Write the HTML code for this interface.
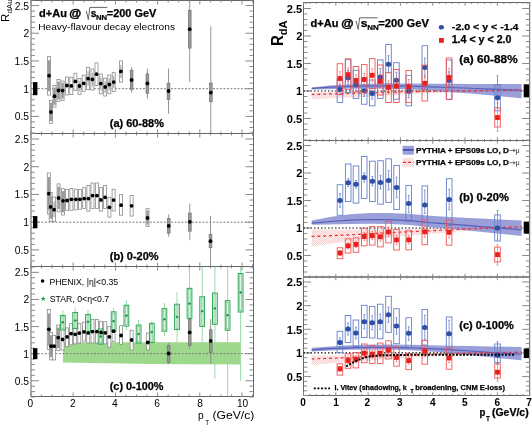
<!DOCTYPE html>
<html><head><meta charset="utf-8"><style>
html,body{margin:0;padding:0;background:#fff;}
svg{display:block;filter:blur(0.3px);font-family:"Liberation Sans",sans-serif;}
</style></head><body>
<svg width="532" height="425" viewBox="0 0 532 425">
<rect width="532" height="425" fill="#fff"/>
<line x1="62.8" y1="310.2" x2="62.8" y2="333.7" stroke="#8fd6a2" stroke-width="0.9"/>
<line x1="75.2" y1="308" x2="75.2" y2="332" stroke="#8fd6a2" stroke-width="0.9"/>
<line x1="88" y1="310" x2="88" y2="335" stroke="#8fd6a2" stroke-width="0.9"/>
<line x1="100.6" y1="326" x2="100.6" y2="347" stroke="#8fd6a2" stroke-width="0.9"/>
<line x1="113.6" y1="308" x2="113.6" y2="334" stroke="#8fd6a2" stroke-width="0.9"/>
<line x1="126.4" y1="300" x2="126.4" y2="330" stroke="#8fd6a2" stroke-width="0.9"/>
<line x1="138.6" y1="320" x2="138.6" y2="347" stroke="#8fd6a2" stroke-width="0.9"/>
<line x1="151.8" y1="320.8" x2="151.8" y2="346" stroke="#8fd6a2" stroke-width="0.9"/>
<line x1="164.4" y1="303" x2="164.4" y2="335.9" stroke="#8fd6a2" stroke-width="0.9"/>
<line x1="177" y1="292.1" x2="177" y2="342" stroke="#8fd6a2" stroke-width="0.9"/>
<line x1="189.5" y1="266" x2="189.5" y2="350" stroke="#8fd6a2" stroke-width="0.9"/>
<line x1="202.2" y1="266" x2="202.2" y2="356.5" stroke="#8fd6a2" stroke-width="0.9"/>
<line x1="214.9" y1="266" x2="214.9" y2="378.7" stroke="#8fd6a2" stroke-width="0.9"/>
<line x1="227.6" y1="266" x2="227.6" y2="396" stroke="#8fd6a2" stroke-width="0.9"/>
<line x1="240.6" y1="266" x2="240.6" y2="381.1" stroke="#8fd6a2" stroke-width="0.9"/>
<polygon points="63,342.2 240.6,342.2 240.6,364.6 150,364 63,362.6" fill="#9ed88c"/>
<line x1="31" y1="88.68" x2="253.5" y2="88.68" stroke="#777" stroke-width="1" stroke-dasharray="1.9 1.6"/>
<rect x="31" y="0.5" width="222.5" height="133" fill="none" stroke="#666" stroke-width="1"/>
<line x1="31" y1="133.03" x2="35" y2="133.03" stroke="#8a8a8a" stroke-width="1"/>
<line x1="249.5" y1="133.03" x2="253.5" y2="133.03" stroke="#8a8a8a" stroke-width="1"/>
<line x1="31" y1="127.49" x2="35" y2="127.49" stroke="#8a8a8a" stroke-width="1"/>
<line x1="249.5" y1="127.49" x2="253.5" y2="127.49" stroke="#8a8a8a" stroke-width="1"/>
<line x1="31" y1="121.95" x2="35" y2="121.95" stroke="#8a8a8a" stroke-width="1"/>
<line x1="249.5" y1="121.95" x2="253.5" y2="121.95" stroke="#8a8a8a" stroke-width="1"/>
<line x1="31" y1="116.4" x2="39" y2="116.4" stroke="#8a8a8a" stroke-width="1"/>
<line x1="245.5" y1="116.4" x2="253.5" y2="116.4" stroke="#8a8a8a" stroke-width="1"/>
<line x1="31" y1="110.86" x2="35" y2="110.86" stroke="#8a8a8a" stroke-width="1"/>
<line x1="249.5" y1="110.86" x2="253.5" y2="110.86" stroke="#8a8a8a" stroke-width="1"/>
<line x1="31" y1="105.31" x2="35" y2="105.31" stroke="#8a8a8a" stroke-width="1"/>
<line x1="249.5" y1="105.31" x2="253.5" y2="105.31" stroke="#8a8a8a" stroke-width="1"/>
<line x1="31" y1="99.77" x2="35" y2="99.77" stroke="#8a8a8a" stroke-width="1"/>
<line x1="249.5" y1="99.77" x2="253.5" y2="99.77" stroke="#8a8a8a" stroke-width="1"/>
<line x1="31" y1="94.22" x2="35" y2="94.22" stroke="#8a8a8a" stroke-width="1"/>
<line x1="249.5" y1="94.22" x2="253.5" y2="94.22" stroke="#8a8a8a" stroke-width="1"/>
<line x1="31" y1="88.68" x2="39" y2="88.68" stroke="#8a8a8a" stroke-width="1"/>
<line x1="245.5" y1="88.68" x2="253.5" y2="88.68" stroke="#8a8a8a" stroke-width="1"/>
<line x1="31" y1="83.13" x2="35" y2="83.13" stroke="#8a8a8a" stroke-width="1"/>
<line x1="249.5" y1="83.13" x2="253.5" y2="83.13" stroke="#8a8a8a" stroke-width="1"/>
<line x1="31" y1="77.59" x2="35" y2="77.59" stroke="#8a8a8a" stroke-width="1"/>
<line x1="249.5" y1="77.59" x2="253.5" y2="77.59" stroke="#8a8a8a" stroke-width="1"/>
<line x1="31" y1="72.04" x2="35" y2="72.04" stroke="#8a8a8a" stroke-width="1"/>
<line x1="249.5" y1="72.04" x2="253.5" y2="72.04" stroke="#8a8a8a" stroke-width="1"/>
<line x1="31" y1="66.5" x2="35" y2="66.5" stroke="#8a8a8a" stroke-width="1"/>
<line x1="249.5" y1="66.5" x2="253.5" y2="66.5" stroke="#8a8a8a" stroke-width="1"/>
<line x1="31" y1="60.95" x2="39" y2="60.95" stroke="#8a8a8a" stroke-width="1"/>
<line x1="245.5" y1="60.95" x2="253.5" y2="60.95" stroke="#8a8a8a" stroke-width="1"/>
<line x1="31" y1="55.41" x2="35" y2="55.41" stroke="#8a8a8a" stroke-width="1"/>
<line x1="249.5" y1="55.41" x2="253.5" y2="55.41" stroke="#8a8a8a" stroke-width="1"/>
<line x1="31" y1="49.86" x2="35" y2="49.86" stroke="#8a8a8a" stroke-width="1"/>
<line x1="249.5" y1="49.86" x2="253.5" y2="49.86" stroke="#8a8a8a" stroke-width="1"/>
<line x1="31" y1="44.31" x2="35" y2="44.31" stroke="#8a8a8a" stroke-width="1"/>
<line x1="249.5" y1="44.31" x2="253.5" y2="44.31" stroke="#8a8a8a" stroke-width="1"/>
<line x1="31" y1="38.77" x2="35" y2="38.77" stroke="#8a8a8a" stroke-width="1"/>
<line x1="249.5" y1="38.77" x2="253.5" y2="38.77" stroke="#8a8a8a" stroke-width="1"/>
<line x1="31" y1="33.22" x2="39" y2="33.22" stroke="#8a8a8a" stroke-width="1"/>
<line x1="245.5" y1="33.22" x2="253.5" y2="33.22" stroke="#8a8a8a" stroke-width="1"/>
<line x1="31" y1="27.68" x2="35" y2="27.68" stroke="#8a8a8a" stroke-width="1"/>
<line x1="249.5" y1="27.68" x2="253.5" y2="27.68" stroke="#8a8a8a" stroke-width="1"/>
<line x1="31" y1="22.13" x2="35" y2="22.13" stroke="#8a8a8a" stroke-width="1"/>
<line x1="249.5" y1="22.13" x2="253.5" y2="22.13" stroke="#8a8a8a" stroke-width="1"/>
<line x1="31" y1="16.59" x2="35" y2="16.59" stroke="#8a8a8a" stroke-width="1"/>
<line x1="249.5" y1="16.59" x2="253.5" y2="16.59" stroke="#8a8a8a" stroke-width="1"/>
<line x1="31" y1="11.05" x2="35" y2="11.05" stroke="#8a8a8a" stroke-width="1"/>
<line x1="249.5" y1="11.05" x2="253.5" y2="11.05" stroke="#8a8a8a" stroke-width="1"/>
<line x1="31" y1="5.5" x2="39" y2="5.5" stroke="#8a8a8a" stroke-width="1"/>
<line x1="245.5" y1="5.5" x2="253.5" y2="5.5" stroke="#8a8a8a" stroke-width="1"/>
<line x1="31" y1="-0.05" x2="35" y2="-0.05" stroke="#8a8a8a" stroke-width="1"/>
<line x1="249.5" y1="-0.05" x2="253.5" y2="-0.05" stroke="#8a8a8a" stroke-width="1"/>
<text x="14.81" y="120.4" font-size="10.29" fill="#000" textLength="14.3" lengthAdjust="spacingAndGlyphs">0.5</text>
<text x="23.38" y="92.68" font-size="10.43" fill="#000" textLength="5.8" lengthAdjust="spacingAndGlyphs">1</text>
<text x="14.61" y="64.95" font-size="10.43" fill="#000" textLength="14.51" lengthAdjust="spacingAndGlyphs">1.5</text>
<text x="23.51" y="37.22" font-size="10.29" fill="#000" textLength="5.72" lengthAdjust="spacingAndGlyphs">2</text>
<text x="14.81" y="9.5" font-size="10.29" fill="#000" textLength="14.3" lengthAdjust="spacingAndGlyphs">2.5</text>
<line x1="31" y1="133.5" x2="31" y2="129.5" stroke="#8a8a8a" stroke-width="1"/>
<line x1="31" y1="0.5" x2="31" y2="4.5" stroke="#8a8a8a" stroke-width="1"/>
<line x1="41.55" y1="133.5" x2="41.55" y2="131.5" stroke="#8a8a8a" stroke-width="1"/>
<line x1="41.55" y1="0.5" x2="41.55" y2="2.5" stroke="#8a8a8a" stroke-width="1"/>
<line x1="52.1" y1="133.5" x2="52.1" y2="131.5" stroke="#8a8a8a" stroke-width="1"/>
<line x1="52.1" y1="0.5" x2="52.1" y2="2.5" stroke="#8a8a8a" stroke-width="1"/>
<line x1="62.65" y1="133.5" x2="62.65" y2="131.5" stroke="#8a8a8a" stroke-width="1"/>
<line x1="62.65" y1="0.5" x2="62.65" y2="2.5" stroke="#8a8a8a" stroke-width="1"/>
<line x1="73.2" y1="133.5" x2="73.2" y2="129.5" stroke="#8a8a8a" stroke-width="1"/>
<line x1="73.2" y1="0.5" x2="73.2" y2="4.5" stroke="#8a8a8a" stroke-width="1"/>
<line x1="83.75" y1="133.5" x2="83.75" y2="131.5" stroke="#8a8a8a" stroke-width="1"/>
<line x1="83.75" y1="0.5" x2="83.75" y2="2.5" stroke="#8a8a8a" stroke-width="1"/>
<line x1="94.3" y1="133.5" x2="94.3" y2="131.5" stroke="#8a8a8a" stroke-width="1"/>
<line x1="94.3" y1="0.5" x2="94.3" y2="2.5" stroke="#8a8a8a" stroke-width="1"/>
<line x1="104.85" y1="133.5" x2="104.85" y2="131.5" stroke="#8a8a8a" stroke-width="1"/>
<line x1="104.85" y1="0.5" x2="104.85" y2="2.5" stroke="#8a8a8a" stroke-width="1"/>
<line x1="115.4" y1="133.5" x2="115.4" y2="129.5" stroke="#8a8a8a" stroke-width="1"/>
<line x1="115.4" y1="0.5" x2="115.4" y2="4.5" stroke="#8a8a8a" stroke-width="1"/>
<line x1="125.95" y1="133.5" x2="125.95" y2="131.5" stroke="#8a8a8a" stroke-width="1"/>
<line x1="125.95" y1="0.5" x2="125.95" y2="2.5" stroke="#8a8a8a" stroke-width="1"/>
<line x1="136.5" y1="133.5" x2="136.5" y2="131.5" stroke="#8a8a8a" stroke-width="1"/>
<line x1="136.5" y1="0.5" x2="136.5" y2="2.5" stroke="#8a8a8a" stroke-width="1"/>
<line x1="147.05" y1="133.5" x2="147.05" y2="131.5" stroke="#8a8a8a" stroke-width="1"/>
<line x1="147.05" y1="0.5" x2="147.05" y2="2.5" stroke="#8a8a8a" stroke-width="1"/>
<line x1="157.6" y1="133.5" x2="157.6" y2="129.5" stroke="#8a8a8a" stroke-width="1"/>
<line x1="157.6" y1="0.5" x2="157.6" y2="4.5" stroke="#8a8a8a" stroke-width="1"/>
<line x1="168.15" y1="133.5" x2="168.15" y2="131.5" stroke="#8a8a8a" stroke-width="1"/>
<line x1="168.15" y1="0.5" x2="168.15" y2="2.5" stroke="#8a8a8a" stroke-width="1"/>
<line x1="178.7" y1="133.5" x2="178.7" y2="131.5" stroke="#8a8a8a" stroke-width="1"/>
<line x1="178.7" y1="0.5" x2="178.7" y2="2.5" stroke="#8a8a8a" stroke-width="1"/>
<line x1="189.25" y1="133.5" x2="189.25" y2="131.5" stroke="#8a8a8a" stroke-width="1"/>
<line x1="189.25" y1="0.5" x2="189.25" y2="2.5" stroke="#8a8a8a" stroke-width="1"/>
<line x1="199.8" y1="133.5" x2="199.8" y2="129.5" stroke="#8a8a8a" stroke-width="1"/>
<line x1="199.8" y1="0.5" x2="199.8" y2="4.5" stroke="#8a8a8a" stroke-width="1"/>
<line x1="210.35" y1="133.5" x2="210.35" y2="131.5" stroke="#8a8a8a" stroke-width="1"/>
<line x1="210.35" y1="0.5" x2="210.35" y2="2.5" stroke="#8a8a8a" stroke-width="1"/>
<line x1="220.9" y1="133.5" x2="220.9" y2="131.5" stroke="#8a8a8a" stroke-width="1"/>
<line x1="220.9" y1="0.5" x2="220.9" y2="2.5" stroke="#8a8a8a" stroke-width="1"/>
<line x1="231.45" y1="133.5" x2="231.45" y2="131.5" stroke="#8a8a8a" stroke-width="1"/>
<line x1="231.45" y1="0.5" x2="231.45" y2="2.5" stroke="#8a8a8a" stroke-width="1"/>
<line x1="242" y1="133.5" x2="242" y2="129.5" stroke="#8a8a8a" stroke-width="1"/>
<line x1="242" y1="0.5" x2="242" y2="4.5" stroke="#8a8a8a" stroke-width="1"/>
<line x1="252.55" y1="133.5" x2="252.55" y2="131.5" stroke="#8a8a8a" stroke-width="1"/>
<line x1="252.55" y1="0.5" x2="252.55" y2="2.5" stroke="#8a8a8a" stroke-width="1"/>
<rect x="33" y="82.18" width="4.4" height="13" fill="#000"/>
<line x1="31" y1="222.18" x2="253.5" y2="222.18" stroke="#777" stroke-width="1" stroke-dasharray="1.9 1.6"/>
<rect x="31" y="133.5" width="222.5" height="133" fill="none" stroke="#666" stroke-width="1"/>
<line x1="31" y1="266.54" x2="35" y2="266.54" stroke="#8a8a8a" stroke-width="1"/>
<line x1="249.5" y1="266.54" x2="253.5" y2="266.54" stroke="#8a8a8a" stroke-width="1"/>
<line x1="31" y1="260.99" x2="35" y2="260.99" stroke="#8a8a8a" stroke-width="1"/>
<line x1="249.5" y1="260.99" x2="253.5" y2="260.99" stroke="#8a8a8a" stroke-width="1"/>
<line x1="31" y1="255.44" x2="35" y2="255.44" stroke="#8a8a8a" stroke-width="1"/>
<line x1="249.5" y1="255.44" x2="253.5" y2="255.44" stroke="#8a8a8a" stroke-width="1"/>
<line x1="31" y1="249.9" x2="39" y2="249.9" stroke="#8a8a8a" stroke-width="1"/>
<line x1="245.5" y1="249.9" x2="253.5" y2="249.9" stroke="#8a8a8a" stroke-width="1"/>
<line x1="31" y1="244.36" x2="35" y2="244.36" stroke="#8a8a8a" stroke-width="1"/>
<line x1="249.5" y1="244.36" x2="253.5" y2="244.36" stroke="#8a8a8a" stroke-width="1"/>
<line x1="31" y1="238.81" x2="35" y2="238.81" stroke="#8a8a8a" stroke-width="1"/>
<line x1="249.5" y1="238.81" x2="253.5" y2="238.81" stroke="#8a8a8a" stroke-width="1"/>
<line x1="31" y1="233.27" x2="35" y2="233.27" stroke="#8a8a8a" stroke-width="1"/>
<line x1="249.5" y1="233.27" x2="253.5" y2="233.27" stroke="#8a8a8a" stroke-width="1"/>
<line x1="31" y1="227.72" x2="35" y2="227.72" stroke="#8a8a8a" stroke-width="1"/>
<line x1="249.5" y1="227.72" x2="253.5" y2="227.72" stroke="#8a8a8a" stroke-width="1"/>
<line x1="31" y1="222.18" x2="39" y2="222.18" stroke="#8a8a8a" stroke-width="1"/>
<line x1="245.5" y1="222.18" x2="253.5" y2="222.18" stroke="#8a8a8a" stroke-width="1"/>
<line x1="31" y1="216.63" x2="35" y2="216.63" stroke="#8a8a8a" stroke-width="1"/>
<line x1="249.5" y1="216.63" x2="253.5" y2="216.63" stroke="#8a8a8a" stroke-width="1"/>
<line x1="31" y1="211.09" x2="35" y2="211.09" stroke="#8a8a8a" stroke-width="1"/>
<line x1="249.5" y1="211.09" x2="253.5" y2="211.09" stroke="#8a8a8a" stroke-width="1"/>
<line x1="31" y1="205.54" x2="35" y2="205.54" stroke="#8a8a8a" stroke-width="1"/>
<line x1="249.5" y1="205.54" x2="253.5" y2="205.54" stroke="#8a8a8a" stroke-width="1"/>
<line x1="31" y1="200" x2="35" y2="200" stroke="#8a8a8a" stroke-width="1"/>
<line x1="249.5" y1="200" x2="253.5" y2="200" stroke="#8a8a8a" stroke-width="1"/>
<line x1="31" y1="194.45" x2="39" y2="194.45" stroke="#8a8a8a" stroke-width="1"/>
<line x1="245.5" y1="194.45" x2="253.5" y2="194.45" stroke="#8a8a8a" stroke-width="1"/>
<line x1="31" y1="188.91" x2="35" y2="188.91" stroke="#8a8a8a" stroke-width="1"/>
<line x1="249.5" y1="188.91" x2="253.5" y2="188.91" stroke="#8a8a8a" stroke-width="1"/>
<line x1="31" y1="183.36" x2="35" y2="183.36" stroke="#8a8a8a" stroke-width="1"/>
<line x1="249.5" y1="183.36" x2="253.5" y2="183.36" stroke="#8a8a8a" stroke-width="1"/>
<line x1="31" y1="177.81" x2="35" y2="177.81" stroke="#8a8a8a" stroke-width="1"/>
<line x1="249.5" y1="177.81" x2="253.5" y2="177.81" stroke="#8a8a8a" stroke-width="1"/>
<line x1="31" y1="172.27" x2="35" y2="172.27" stroke="#8a8a8a" stroke-width="1"/>
<line x1="249.5" y1="172.27" x2="253.5" y2="172.27" stroke="#8a8a8a" stroke-width="1"/>
<line x1="31" y1="166.72" x2="39" y2="166.72" stroke="#8a8a8a" stroke-width="1"/>
<line x1="245.5" y1="166.72" x2="253.5" y2="166.72" stroke="#8a8a8a" stroke-width="1"/>
<line x1="31" y1="161.18" x2="35" y2="161.18" stroke="#8a8a8a" stroke-width="1"/>
<line x1="249.5" y1="161.18" x2="253.5" y2="161.18" stroke="#8a8a8a" stroke-width="1"/>
<line x1="31" y1="155.63" x2="35" y2="155.63" stroke="#8a8a8a" stroke-width="1"/>
<line x1="249.5" y1="155.63" x2="253.5" y2="155.63" stroke="#8a8a8a" stroke-width="1"/>
<line x1="31" y1="150.09" x2="35" y2="150.09" stroke="#8a8a8a" stroke-width="1"/>
<line x1="249.5" y1="150.09" x2="253.5" y2="150.09" stroke="#8a8a8a" stroke-width="1"/>
<line x1="31" y1="144.55" x2="35" y2="144.55" stroke="#8a8a8a" stroke-width="1"/>
<line x1="249.5" y1="144.55" x2="253.5" y2="144.55" stroke="#8a8a8a" stroke-width="1"/>
<line x1="31" y1="139" x2="39" y2="139" stroke="#8a8a8a" stroke-width="1"/>
<line x1="245.5" y1="139" x2="253.5" y2="139" stroke="#8a8a8a" stroke-width="1"/>
<line x1="31" y1="133.45" x2="35" y2="133.45" stroke="#8a8a8a" stroke-width="1"/>
<line x1="249.5" y1="133.45" x2="253.5" y2="133.45" stroke="#8a8a8a" stroke-width="1"/>
<text x="14.81" y="253.9" font-size="10.29" fill="#000" textLength="14.3" lengthAdjust="spacingAndGlyphs">0.5</text>
<text x="23.38" y="226.18" font-size="10.43" fill="#000" textLength="5.8" lengthAdjust="spacingAndGlyphs">1</text>
<text x="14.61" y="198.45" font-size="10.43" fill="#000" textLength="14.51" lengthAdjust="spacingAndGlyphs">1.5</text>
<text x="23.51" y="170.72" font-size="10.29" fill="#000" textLength="5.72" lengthAdjust="spacingAndGlyphs">2</text>
<text x="14.81" y="143" font-size="10.29" fill="#000" textLength="14.3" lengthAdjust="spacingAndGlyphs">2.5</text>
<line x1="31" y1="266.5" x2="31" y2="262.5" stroke="#8a8a8a" stroke-width="1"/>
<line x1="31" y1="133.5" x2="31" y2="137.5" stroke="#8a8a8a" stroke-width="1"/>
<line x1="41.55" y1="266.5" x2="41.55" y2="264.5" stroke="#8a8a8a" stroke-width="1"/>
<line x1="41.55" y1="133.5" x2="41.55" y2="135.5" stroke="#8a8a8a" stroke-width="1"/>
<line x1="52.1" y1="266.5" x2="52.1" y2="264.5" stroke="#8a8a8a" stroke-width="1"/>
<line x1="52.1" y1="133.5" x2="52.1" y2="135.5" stroke="#8a8a8a" stroke-width="1"/>
<line x1="62.65" y1="266.5" x2="62.65" y2="264.5" stroke="#8a8a8a" stroke-width="1"/>
<line x1="62.65" y1="133.5" x2="62.65" y2="135.5" stroke="#8a8a8a" stroke-width="1"/>
<line x1="73.2" y1="266.5" x2="73.2" y2="262.5" stroke="#8a8a8a" stroke-width="1"/>
<line x1="73.2" y1="133.5" x2="73.2" y2="137.5" stroke="#8a8a8a" stroke-width="1"/>
<line x1="83.75" y1="266.5" x2="83.75" y2="264.5" stroke="#8a8a8a" stroke-width="1"/>
<line x1="83.75" y1="133.5" x2="83.75" y2="135.5" stroke="#8a8a8a" stroke-width="1"/>
<line x1="94.3" y1="266.5" x2="94.3" y2="264.5" stroke="#8a8a8a" stroke-width="1"/>
<line x1="94.3" y1="133.5" x2="94.3" y2="135.5" stroke="#8a8a8a" stroke-width="1"/>
<line x1="104.85" y1="266.5" x2="104.85" y2="264.5" stroke="#8a8a8a" stroke-width="1"/>
<line x1="104.85" y1="133.5" x2="104.85" y2="135.5" stroke="#8a8a8a" stroke-width="1"/>
<line x1="115.4" y1="266.5" x2="115.4" y2="262.5" stroke="#8a8a8a" stroke-width="1"/>
<line x1="115.4" y1="133.5" x2="115.4" y2="137.5" stroke="#8a8a8a" stroke-width="1"/>
<line x1="125.95" y1="266.5" x2="125.95" y2="264.5" stroke="#8a8a8a" stroke-width="1"/>
<line x1="125.95" y1="133.5" x2="125.95" y2="135.5" stroke="#8a8a8a" stroke-width="1"/>
<line x1="136.5" y1="266.5" x2="136.5" y2="264.5" stroke="#8a8a8a" stroke-width="1"/>
<line x1="136.5" y1="133.5" x2="136.5" y2="135.5" stroke="#8a8a8a" stroke-width="1"/>
<line x1="147.05" y1="266.5" x2="147.05" y2="264.5" stroke="#8a8a8a" stroke-width="1"/>
<line x1="147.05" y1="133.5" x2="147.05" y2="135.5" stroke="#8a8a8a" stroke-width="1"/>
<line x1="157.6" y1="266.5" x2="157.6" y2="262.5" stroke="#8a8a8a" stroke-width="1"/>
<line x1="157.6" y1="133.5" x2="157.6" y2="137.5" stroke="#8a8a8a" stroke-width="1"/>
<line x1="168.15" y1="266.5" x2="168.15" y2="264.5" stroke="#8a8a8a" stroke-width="1"/>
<line x1="168.15" y1="133.5" x2="168.15" y2="135.5" stroke="#8a8a8a" stroke-width="1"/>
<line x1="178.7" y1="266.5" x2="178.7" y2="264.5" stroke="#8a8a8a" stroke-width="1"/>
<line x1="178.7" y1="133.5" x2="178.7" y2="135.5" stroke="#8a8a8a" stroke-width="1"/>
<line x1="189.25" y1="266.5" x2="189.25" y2="264.5" stroke="#8a8a8a" stroke-width="1"/>
<line x1="189.25" y1="133.5" x2="189.25" y2="135.5" stroke="#8a8a8a" stroke-width="1"/>
<line x1="199.8" y1="266.5" x2="199.8" y2="262.5" stroke="#8a8a8a" stroke-width="1"/>
<line x1="199.8" y1="133.5" x2="199.8" y2="137.5" stroke="#8a8a8a" stroke-width="1"/>
<line x1="210.35" y1="266.5" x2="210.35" y2="264.5" stroke="#8a8a8a" stroke-width="1"/>
<line x1="210.35" y1="133.5" x2="210.35" y2="135.5" stroke="#8a8a8a" stroke-width="1"/>
<line x1="220.9" y1="266.5" x2="220.9" y2="264.5" stroke="#8a8a8a" stroke-width="1"/>
<line x1="220.9" y1="133.5" x2="220.9" y2="135.5" stroke="#8a8a8a" stroke-width="1"/>
<line x1="231.45" y1="266.5" x2="231.45" y2="264.5" stroke="#8a8a8a" stroke-width="1"/>
<line x1="231.45" y1="133.5" x2="231.45" y2="135.5" stroke="#8a8a8a" stroke-width="1"/>
<line x1="242" y1="266.5" x2="242" y2="262.5" stroke="#8a8a8a" stroke-width="1"/>
<line x1="242" y1="133.5" x2="242" y2="137.5" stroke="#8a8a8a" stroke-width="1"/>
<line x1="252.55" y1="266.5" x2="252.55" y2="264.5" stroke="#8a8a8a" stroke-width="1"/>
<line x1="252.55" y1="133.5" x2="252.55" y2="135.5" stroke="#8a8a8a" stroke-width="1"/>
<rect x="33" y="216.08" width="4.4" height="12.2" fill="#000"/>
<line x1="31" y1="353.65" x2="253.5" y2="353.65" stroke="#777" stroke-width="1" stroke-dasharray="1.9 1.6"/>
<rect x="31" y="266.5" width="222.5" height="130" fill="none" stroke="#666" stroke-width="1"/>
<line x1="31" y1="397.01" x2="35" y2="397.01" stroke="#8a8a8a" stroke-width="1"/>
<line x1="249.5" y1="397.01" x2="253.5" y2="397.01" stroke="#8a8a8a" stroke-width="1"/>
<line x1="31" y1="391.59" x2="35" y2="391.59" stroke="#8a8a8a" stroke-width="1"/>
<line x1="249.5" y1="391.59" x2="253.5" y2="391.59" stroke="#8a8a8a" stroke-width="1"/>
<line x1="31" y1="386.17" x2="35" y2="386.17" stroke="#8a8a8a" stroke-width="1"/>
<line x1="249.5" y1="386.17" x2="253.5" y2="386.17" stroke="#8a8a8a" stroke-width="1"/>
<line x1="31" y1="380.75" x2="39" y2="380.75" stroke="#8a8a8a" stroke-width="1"/>
<line x1="245.5" y1="380.75" x2="253.5" y2="380.75" stroke="#8a8a8a" stroke-width="1"/>
<line x1="31" y1="375.33" x2="35" y2="375.33" stroke="#8a8a8a" stroke-width="1"/>
<line x1="249.5" y1="375.33" x2="253.5" y2="375.33" stroke="#8a8a8a" stroke-width="1"/>
<line x1="31" y1="369.91" x2="35" y2="369.91" stroke="#8a8a8a" stroke-width="1"/>
<line x1="249.5" y1="369.91" x2="253.5" y2="369.91" stroke="#8a8a8a" stroke-width="1"/>
<line x1="31" y1="364.49" x2="35" y2="364.49" stroke="#8a8a8a" stroke-width="1"/>
<line x1="249.5" y1="364.49" x2="253.5" y2="364.49" stroke="#8a8a8a" stroke-width="1"/>
<line x1="31" y1="359.07" x2="35" y2="359.07" stroke="#8a8a8a" stroke-width="1"/>
<line x1="249.5" y1="359.07" x2="253.5" y2="359.07" stroke="#8a8a8a" stroke-width="1"/>
<line x1="31" y1="353.65" x2="39" y2="353.65" stroke="#8a8a8a" stroke-width="1"/>
<line x1="245.5" y1="353.65" x2="253.5" y2="353.65" stroke="#8a8a8a" stroke-width="1"/>
<line x1="31" y1="348.23" x2="35" y2="348.23" stroke="#8a8a8a" stroke-width="1"/>
<line x1="249.5" y1="348.23" x2="253.5" y2="348.23" stroke="#8a8a8a" stroke-width="1"/>
<line x1="31" y1="342.81" x2="35" y2="342.81" stroke="#8a8a8a" stroke-width="1"/>
<line x1="249.5" y1="342.81" x2="253.5" y2="342.81" stroke="#8a8a8a" stroke-width="1"/>
<line x1="31" y1="337.39" x2="35" y2="337.39" stroke="#8a8a8a" stroke-width="1"/>
<line x1="249.5" y1="337.39" x2="253.5" y2="337.39" stroke="#8a8a8a" stroke-width="1"/>
<line x1="31" y1="331.97" x2="35" y2="331.97" stroke="#8a8a8a" stroke-width="1"/>
<line x1="249.5" y1="331.97" x2="253.5" y2="331.97" stroke="#8a8a8a" stroke-width="1"/>
<line x1="31" y1="326.55" x2="39" y2="326.55" stroke="#8a8a8a" stroke-width="1"/>
<line x1="245.5" y1="326.55" x2="253.5" y2="326.55" stroke="#8a8a8a" stroke-width="1"/>
<line x1="31" y1="321.13" x2="35" y2="321.13" stroke="#8a8a8a" stroke-width="1"/>
<line x1="249.5" y1="321.13" x2="253.5" y2="321.13" stroke="#8a8a8a" stroke-width="1"/>
<line x1="31" y1="315.71" x2="35" y2="315.71" stroke="#8a8a8a" stroke-width="1"/>
<line x1="249.5" y1="315.71" x2="253.5" y2="315.71" stroke="#8a8a8a" stroke-width="1"/>
<line x1="31" y1="310.29" x2="35" y2="310.29" stroke="#8a8a8a" stroke-width="1"/>
<line x1="249.5" y1="310.29" x2="253.5" y2="310.29" stroke="#8a8a8a" stroke-width="1"/>
<line x1="31" y1="304.87" x2="35" y2="304.87" stroke="#8a8a8a" stroke-width="1"/>
<line x1="249.5" y1="304.87" x2="253.5" y2="304.87" stroke="#8a8a8a" stroke-width="1"/>
<line x1="31" y1="299.45" x2="39" y2="299.45" stroke="#8a8a8a" stroke-width="1"/>
<line x1="245.5" y1="299.45" x2="253.5" y2="299.45" stroke="#8a8a8a" stroke-width="1"/>
<line x1="31" y1="294.03" x2="35" y2="294.03" stroke="#8a8a8a" stroke-width="1"/>
<line x1="249.5" y1="294.03" x2="253.5" y2="294.03" stroke="#8a8a8a" stroke-width="1"/>
<line x1="31" y1="288.61" x2="35" y2="288.61" stroke="#8a8a8a" stroke-width="1"/>
<line x1="249.5" y1="288.61" x2="253.5" y2="288.61" stroke="#8a8a8a" stroke-width="1"/>
<line x1="31" y1="283.19" x2="35" y2="283.19" stroke="#8a8a8a" stroke-width="1"/>
<line x1="249.5" y1="283.19" x2="253.5" y2="283.19" stroke="#8a8a8a" stroke-width="1"/>
<line x1="31" y1="277.77" x2="35" y2="277.77" stroke="#8a8a8a" stroke-width="1"/>
<line x1="249.5" y1="277.77" x2="253.5" y2="277.77" stroke="#8a8a8a" stroke-width="1"/>
<line x1="31" y1="272.35" x2="39" y2="272.35" stroke="#8a8a8a" stroke-width="1"/>
<line x1="245.5" y1="272.35" x2="253.5" y2="272.35" stroke="#8a8a8a" stroke-width="1"/>
<line x1="31" y1="266.93" x2="35" y2="266.93" stroke="#8a8a8a" stroke-width="1"/>
<line x1="249.5" y1="266.93" x2="253.5" y2="266.93" stroke="#8a8a8a" stroke-width="1"/>
<text x="14.81" y="384.75" font-size="10.29" fill="#000" textLength="14.3" lengthAdjust="spacingAndGlyphs">0.5</text>
<text x="23.38" y="357.65" font-size="10.43" fill="#000" textLength="5.8" lengthAdjust="spacingAndGlyphs">1</text>
<text x="14.61" y="330.55" font-size="10.43" fill="#000" textLength="14.51" lengthAdjust="spacingAndGlyphs">1.5</text>
<text x="23.51" y="303.45" font-size="10.29" fill="#000" textLength="5.72" lengthAdjust="spacingAndGlyphs">2</text>
<text x="14.81" y="276.35" font-size="10.29" fill="#000" textLength="14.3" lengthAdjust="spacingAndGlyphs">2.5</text>
<line x1="31" y1="396.5" x2="31" y2="392.5" stroke="#8a8a8a" stroke-width="1"/>
<line x1="31" y1="266.5" x2="31" y2="270.5" stroke="#8a8a8a" stroke-width="1"/>
<line x1="41.55" y1="396.5" x2="41.55" y2="394.5" stroke="#8a8a8a" stroke-width="1"/>
<line x1="41.55" y1="266.5" x2="41.55" y2="268.5" stroke="#8a8a8a" stroke-width="1"/>
<line x1="52.1" y1="396.5" x2="52.1" y2="394.5" stroke="#8a8a8a" stroke-width="1"/>
<line x1="52.1" y1="266.5" x2="52.1" y2="268.5" stroke="#8a8a8a" stroke-width="1"/>
<line x1="62.65" y1="396.5" x2="62.65" y2="394.5" stroke="#8a8a8a" stroke-width="1"/>
<line x1="62.65" y1="266.5" x2="62.65" y2="268.5" stroke="#8a8a8a" stroke-width="1"/>
<line x1="73.2" y1="396.5" x2="73.2" y2="392.5" stroke="#8a8a8a" stroke-width="1"/>
<line x1="73.2" y1="266.5" x2="73.2" y2="270.5" stroke="#8a8a8a" stroke-width="1"/>
<line x1="83.75" y1="396.5" x2="83.75" y2="394.5" stroke="#8a8a8a" stroke-width="1"/>
<line x1="83.75" y1="266.5" x2="83.75" y2="268.5" stroke="#8a8a8a" stroke-width="1"/>
<line x1="94.3" y1="396.5" x2="94.3" y2="394.5" stroke="#8a8a8a" stroke-width="1"/>
<line x1="94.3" y1="266.5" x2="94.3" y2="268.5" stroke="#8a8a8a" stroke-width="1"/>
<line x1="104.85" y1="396.5" x2="104.85" y2="394.5" stroke="#8a8a8a" stroke-width="1"/>
<line x1="104.85" y1="266.5" x2="104.85" y2="268.5" stroke="#8a8a8a" stroke-width="1"/>
<line x1="115.4" y1="396.5" x2="115.4" y2="392.5" stroke="#8a8a8a" stroke-width="1"/>
<line x1="115.4" y1="266.5" x2="115.4" y2="270.5" stroke="#8a8a8a" stroke-width="1"/>
<line x1="125.95" y1="396.5" x2="125.95" y2="394.5" stroke="#8a8a8a" stroke-width="1"/>
<line x1="125.95" y1="266.5" x2="125.95" y2="268.5" stroke="#8a8a8a" stroke-width="1"/>
<line x1="136.5" y1="396.5" x2="136.5" y2="394.5" stroke="#8a8a8a" stroke-width="1"/>
<line x1="136.5" y1="266.5" x2="136.5" y2="268.5" stroke="#8a8a8a" stroke-width="1"/>
<line x1="147.05" y1="396.5" x2="147.05" y2="394.5" stroke="#8a8a8a" stroke-width="1"/>
<line x1="147.05" y1="266.5" x2="147.05" y2="268.5" stroke="#8a8a8a" stroke-width="1"/>
<line x1="157.6" y1="396.5" x2="157.6" y2="392.5" stroke="#8a8a8a" stroke-width="1"/>
<line x1="157.6" y1="266.5" x2="157.6" y2="270.5" stroke="#8a8a8a" stroke-width="1"/>
<line x1="168.15" y1="396.5" x2="168.15" y2="394.5" stroke="#8a8a8a" stroke-width="1"/>
<line x1="168.15" y1="266.5" x2="168.15" y2="268.5" stroke="#8a8a8a" stroke-width="1"/>
<line x1="178.7" y1="396.5" x2="178.7" y2="394.5" stroke="#8a8a8a" stroke-width="1"/>
<line x1="178.7" y1="266.5" x2="178.7" y2="268.5" stroke="#8a8a8a" stroke-width="1"/>
<line x1="189.25" y1="396.5" x2="189.25" y2="394.5" stroke="#8a8a8a" stroke-width="1"/>
<line x1="189.25" y1="266.5" x2="189.25" y2="268.5" stroke="#8a8a8a" stroke-width="1"/>
<line x1="199.8" y1="396.5" x2="199.8" y2="392.5" stroke="#8a8a8a" stroke-width="1"/>
<line x1="199.8" y1="266.5" x2="199.8" y2="270.5" stroke="#8a8a8a" stroke-width="1"/>
<line x1="210.35" y1="396.5" x2="210.35" y2="394.5" stroke="#8a8a8a" stroke-width="1"/>
<line x1="210.35" y1="266.5" x2="210.35" y2="268.5" stroke="#8a8a8a" stroke-width="1"/>
<line x1="220.9" y1="396.5" x2="220.9" y2="394.5" stroke="#8a8a8a" stroke-width="1"/>
<line x1="220.9" y1="266.5" x2="220.9" y2="268.5" stroke="#8a8a8a" stroke-width="1"/>
<line x1="231.45" y1="396.5" x2="231.45" y2="394.5" stroke="#8a8a8a" stroke-width="1"/>
<line x1="231.45" y1="266.5" x2="231.45" y2="268.5" stroke="#8a8a8a" stroke-width="1"/>
<line x1="242" y1="396.5" x2="242" y2="392.5" stroke="#8a8a8a" stroke-width="1"/>
<line x1="242" y1="266.5" x2="242" y2="270.5" stroke="#8a8a8a" stroke-width="1"/>
<line x1="252.55" y1="396.5" x2="252.55" y2="394.5" stroke="#8a8a8a" stroke-width="1"/>
<line x1="252.55" y1="266.5" x2="252.55" y2="268.5" stroke="#8a8a8a" stroke-width="1"/>
<rect x="33" y="348.15" width="4.4" height="11" fill="#000"/>
<text x="27.51" y="407" font-size="10.14" fill="#000" textLength="5.64" lengthAdjust="spacingAndGlyphs">0</text>
<text x="70.09" y="407" font-size="10.14" fill="#000" textLength="5.64" lengthAdjust="spacingAndGlyphs">2</text>
<text x="111.95" y="407" font-size="10.29" fill="#000" textLength="5.72" lengthAdjust="spacingAndGlyphs">4</text>
<text x="154.33" y="407" font-size="10.14" fill="#000" textLength="5.64" lengthAdjust="spacingAndGlyphs">6</text>
<text x="197.16" y="407" font-size="10.14" fill="#000" textLength="5.64" lengthAdjust="spacingAndGlyphs">8</text>
<text x="236.97" y="407" font-size="10.14" fill="#000" textLength="11.28" lengthAdjust="spacingAndGlyphs">10</text>
<text x="198.04" y="419.1" font-size="11.11" fill="#000" textLength="5.69" lengthAdjust="spacingAndGlyphs">p</text>
<text x="205.17" y="424.8" font-size="7.97" fill="#000" textLength="3.86" lengthAdjust="spacingAndGlyphs">T</text>
<text x="212.47" y="419.1" font-size="10" fill="#000" textLength="41.82" lengthAdjust="spacingAndGlyphs">(GeV/c)</text>
<g transform="translate(8.6,21.9) rotate(-90)"><text x="0" y="0" font-size="11.5">R</text><text x="8.4" y="3.2" font-size="8">dAu</text></g>
<text x="39.06" y="16.9" font-size="10.72" font-weight="bold" stroke="#000" stroke-width="0.25" fill="#000" textLength="27.89" lengthAdjust="spacingAndGlyphs">d+Au</text>
<text x="69.33" y="16.9" font-size="10.85" font-weight="bold" stroke="#000" stroke-width="0.45" fill="#000" textLength="11.95" lengthAdjust="spacingAndGlyphs">@</text>
<polyline points="86.1,12.2 86.5,11.3 88.3,19.6 89.9,7.4 107.3,7.4" fill="none" stroke="#555" stroke-width="0.9"/>
<text x="90.84" y="16.9" font-size="10.74" font-weight="bold" stroke="#000" stroke-width="0.25" fill="#000" textLength="5.68" lengthAdjust="spacingAndGlyphs">s</text>
<text x="95.9" y="19.6" font-size="6.96" font-weight="bold" stroke="#000" stroke-width="0.2" fill="#000" textLength="11.14" lengthAdjust="spacingAndGlyphs">NN</text>
<text x="106.76" y="16.9" font-size="10.57" font-weight="bold" stroke="#000" stroke-width="0.25" fill="#000" textLength="49.51" lengthAdjust="spacingAndGlyphs">=200 GeV</text>
<text x="38.19" y="30.2" font-size="9.86" fill="#000" textLength="136.78" lengthAdjust="spacingAndGlyphs">Heavy-flavour decay electrons</text>
<text x="109.75" y="126.5" font-size="10.71" font-weight="bold" stroke="#000" stroke-width="0.25" fill="#000" textLength="54.19" lengthAdjust="spacingAndGlyphs">(a) 60-88%</text>
<text x="109.75" y="259.9" font-size="10.14" font-weight="bold" stroke="#000" stroke-width="0.25" fill="#000" textLength="48.83" lengthAdjust="spacingAndGlyphs">(b) 0-20%</text>
<text x="109.76" y="390.3" font-size="10.71" font-weight="bold" stroke="#000" stroke-width="0.25" fill="#000" textLength="53.68" lengthAdjust="spacingAndGlyphs">(c) 0-100%</text>
<circle cx="42.6" cy="281" r="1.8" fill="#000"/>
<text x="49.4" y="285.2" font-size="8.99" fill="#000" textLength="68.75" lengthAdjust="spacingAndGlyphs">PHENIX, |η|&lt;0.35</text>
<text x="49.71" y="301.5" font-size="8.14" fill="#000" textLength="59.52" lengthAdjust="spacingAndGlyphs">STAR, 0&lt;η&lt;0.7</text>
<text x="42.6" y="301" font-size="7" text-anchor="middle" fill="#1a9a40">&#9733;</text>
<rect x="49.4" y="100.4" width="3" height="23" fill="#fff" stroke="#8c8c8c" stroke-width="0.8"/>
<rect x="49.7" y="102.7" width="2.4" height="18.4" fill="#9a9a9a"/>
<rect x="47.6" y="56.4" width="3" height="38.7" fill="#fff" stroke="#8c8c8c" stroke-width="0.8"/>
<rect x="47.9" y="60.27" width="2.4" height="30.96" fill="#9a9a9a"/>
<rect x="53" y="85.5" width="3" height="21.5" fill="#fff" stroke="#8c8c8c" stroke-width="0.8"/>
<rect x="53.3" y="87.65" width="2.4" height="17.2" fill="#9a9a9a"/>
<rect x="57" y="79.4" width="3" height="22.1" fill="#fff" stroke="#8c8c8c" stroke-width="0.8"/>
<rect x="57.3" y="81.61" width="2.4" height="17.68" fill="#9a9a9a"/>
<rect x="61.1" y="81" width="3" height="19.4" fill="#fff" stroke="#8c8c8c" stroke-width="0.8"/>
<rect x="61.4" y="82.94" width="2.4" height="15.52" fill="#9a9a9a"/>
<rect x="65.4" y="77" width="3" height="18" fill="#fff" stroke="#8c8c8c" stroke-width="0.8"/>
<rect x="69.8" y="77.3" width="3" height="17.3" fill="#fff" stroke="#8c8c8c" stroke-width="0.8"/>
<rect x="73.9" y="73.2" width="3" height="17.3" fill="#fff" stroke="#8c8c8c" stroke-width="0.8"/>
<rect x="78" y="78.5" width="3" height="15.8" fill="#fff" stroke="#8c8c8c" stroke-width="0.8"/>
<rect x="78.8" y="81.34" width="1.4" height="10.11" fill="#b4b4b4"/>
<rect x="82.2" y="75.2" width="3" height="16.1" fill="#fff" stroke="#8c8c8c" stroke-width="0.8"/>
<rect x="86.6" y="67.4" width="3" height="22.3" fill="#fff" stroke="#8c8c8c" stroke-width="0.8"/>
<rect x="87.4" y="71.41" width="1.4" height="14.27" fill="#b4b4b4"/>
<rect x="90.9" y="69" width="3" height="21" fill="#fff" stroke="#8c8c8c" stroke-width="0.8"/>
<rect x="91.7" y="72.78" width="1.4" height="13.44" fill="#b4b4b4"/>
<rect x="95" y="63" width="3" height="22.5" fill="#fff" stroke="#8c8c8c" stroke-width="0.8"/>
<rect x="99.3" y="74" width="3" height="19.8" fill="#fff" stroke="#8c8c8c" stroke-width="0.8"/>
<rect x="100.1" y="77.56" width="1.4" height="12.67" fill="#b4b4b4"/>
<rect x="103.7" y="78.2" width="3" height="17.8" fill="#fff" stroke="#8c8c8c" stroke-width="0.8"/>
<rect x="104.5" y="81.4" width="1.4" height="11.39" fill="#b4b4b4"/>
<rect x="107.8" y="75" width="3" height="18.7" fill="#fff" stroke="#8c8c8c" stroke-width="0.8"/>
<rect x="108.6" y="78.37" width="1.4" height="11.97" fill="#b4b4b4"/>
<rect x="112.2" y="72.6" width="3" height="18.9" fill="#fff" stroke="#8c8c8c" stroke-width="0.8"/>
<rect x="113" y="76" width="1.4" height="12.1" fill="#b4b4b4"/>
<rect x="119.4" y="61" width="3" height="21.1" fill="#fff" stroke="#8c8c8c" stroke-width="0.8"/>
<rect x="120.2" y="64.8" width="1.4" height="13.5" fill="#b4b4b4"/>
<line x1="131.6" y1="67.3" x2="131.6" y2="92.5" stroke="#8a8a8a" stroke-width="0.9"/>
<rect x="130.2" y="70.1" width="2.8" height="19.4" fill="#999" stroke="#6a6a6a" stroke-width="0.6"/>
<line x1="147.4" y1="68.5" x2="147.4" y2="98.6" stroke="#8a8a8a" stroke-width="0.9"/>
<rect x="146" y="73.9" width="2.8" height="19.3" fill="#999" stroke="#6a6a6a" stroke-width="0.6"/>
<line x1="168.5" y1="68.5" x2="168.5" y2="113.6" stroke="#8a8a8a" stroke-width="0.9"/>
<rect x="167.1" y="83" width="2.8" height="16.5" fill="#999" stroke="#6a6a6a" stroke-width="0.6"/>
<line x1="189.7" y1="0" x2="189.7" y2="82.2" stroke="#8a8a8a" stroke-width="0.9"/>
<rect x="188.3" y="10.2" width="2.8" height="37.9" fill="#999" stroke="#6a6a6a" stroke-width="0.6"/>
<line x1="210.8" y1="26.4" x2="210.8" y2="133" stroke="#8a8a8a" stroke-width="0.9"/>
<rect x="209.4" y="83" width="2.8" height="18.8" fill="#999" stroke="#6a6a6a" stroke-width="0.6"/>
<rect x="47.3" y="173" width="3" height="41" fill="#fff" stroke="#8c8c8c" stroke-width="0.8"/>
<rect x="47.6" y="177.1" width="2.4" height="32.8" fill="#9a9a9a"/>
<rect x="49.2" y="192.4" width="3" height="29.2" fill="#fff" stroke="#8c8c8c" stroke-width="0.8"/>
<rect x="49.5" y="195.32" width="2.4" height="23.36" fill="#9a9a9a"/>
<rect x="52.6" y="197.1" width="3" height="24.5" fill="#fff" stroke="#8c8c8c" stroke-width="0.8"/>
<rect x="53.4" y="201.51" width="1.4" height="15.68" fill="#b4b4b4"/>
<rect x="57.1" y="183.9" width="3" height="27.9" fill="#fff" stroke="#8c8c8c" stroke-width="0.8"/>
<rect x="57.4" y="186.69" width="2.4" height="22.32" fill="#9a9a9a"/>
<rect x="61.5" y="188.6" width="3" height="26.4" fill="#fff" stroke="#8c8c8c" stroke-width="0.8"/>
<rect x="61.8" y="191.24" width="2.4" height="21.12" fill="#9a9a9a"/>
<rect x="65.6" y="189.5" width="3" height="20.8" fill="#fff" stroke="#8c8c8c" stroke-width="0.8"/>
<rect x="69.9" y="188.6" width="3" height="21.7" fill="#fff" stroke="#8c8c8c" stroke-width="0.8"/>
<rect x="74.3" y="189.2" width="3" height="20.7" fill="#fff" stroke="#8c8c8c" stroke-width="0.8"/>
<rect x="78.4" y="189.5" width="3" height="19.8" fill="#fff" stroke="#8c8c8c" stroke-width="0.8"/>
<rect x="82.7" y="187.7" width="3" height="20.7" fill="#fff" stroke="#8c8c8c" stroke-width="0.8"/>
<rect x="86.9" y="185.4" width="3" height="25.8" fill="#fff" stroke="#8c8c8c" stroke-width="0.8"/>
<rect x="91" y="183" width="3" height="25.4" fill="#fff" stroke="#8c8c8c" stroke-width="0.8"/>
<rect x="95.4" y="183" width="3" height="25.4" fill="#fff" stroke="#8c8c8c" stroke-width="0.8"/>
<rect x="99.4" y="187.7" width="3" height="23.5" fill="#fff" stroke="#8c8c8c" stroke-width="0.8"/>
<rect x="103.6" y="185.4" width="3" height="23.2" fill="#fff" stroke="#8c8c8c" stroke-width="0.8"/>
<rect x="107.9" y="197.3" width="3" height="19.8" fill="#fff" stroke="#8c8c8c" stroke-width="0.8"/>
<rect x="112.1" y="189.2" width="3" height="21.8" fill="#fff" stroke="#8c8c8c" stroke-width="0.8"/>
<rect x="119.6" y="194.5" width="3" height="20.7" fill="#fff" stroke="#8c8c8c" stroke-width="0.8"/>
<rect x="130.1" y="195.4" width="3" height="20.7" fill="#fff" stroke="#8c8c8c" stroke-width="0.8"/>
<rect x="146" y="208.6" width="3" height="17.9" fill="#fff" stroke="#8c8c8c" stroke-width="0.8"/>
<rect x="146.3" y="210.39" width="2.4" height="14.32" fill="#9a9a9a"/>
<line x1="168.7" y1="214.3" x2="168.7" y2="236.9" stroke="#8a8a8a" stroke-width="0.9"/>
<rect x="167.3" y="218.6" width="2.8" height="14.5" fill="#999" stroke="#6a6a6a" stroke-width="0.6"/>
<line x1="189.8" y1="203.5" x2="189.8" y2="240.3" stroke="#8a8a8a" stroke-width="0.9"/>
<rect x="188.4" y="213" width="2.8" height="18.2" fill="#999" stroke="#6a6a6a" stroke-width="0.6"/>
<line x1="210.5" y1="215.8" x2="210.5" y2="266" stroke="#8a8a8a" stroke-width="0.9"/>
<rect x="209.1" y="234.6" width="2.8" height="13.2" fill="#999" stroke="#6a6a6a" stroke-width="0.6"/>
<rect x="47.3" y="309.5" width="3" height="40" fill="#fff" stroke="#8c8c8c" stroke-width="0.8"/>
<rect x="47.6" y="313.5" width="2.4" height="32" fill="#9a9a9a"/>
<rect x="49.6" y="332.6" width="3" height="27.3" fill="#fff" stroke="#8c8c8c" stroke-width="0.8"/>
<rect x="49.9" y="335.33" width="2.4" height="21.84" fill="#9a9a9a"/>
<rect x="52.6" y="335.4" width="3" height="24.5" fill="#fff" stroke="#8c8c8c" stroke-width="0.8"/>
<rect x="56.7" y="325" width="3" height="25.5" fill="#fff" stroke="#8c8c8c" stroke-width="0.8"/>
<rect x="57" y="327.55" width="2.4" height="20.4" fill="#9a9a9a"/>
<rect x="61.1" y="328" width="3" height="22" fill="#fff" stroke="#8c8c8c" stroke-width="0.8"/>
<rect x="65.6" y="327.9" width="3" height="18.8" fill="#fff" stroke="#8c8c8c" stroke-width="0.8"/>
<rect x="69.6" y="323.6" width="3" height="21.2" fill="#fff" stroke="#8c8c8c" stroke-width="0.8"/>
<rect x="73.7" y="323.2" width="3" height="20.7" fill="#fff" stroke="#8c8c8c" stroke-width="0.8"/>
<rect x="77.8" y="323.6" width="3" height="19.4" fill="#fff" stroke="#8c8c8c" stroke-width="0.8"/>
<rect x="82.5" y="322.2" width="3" height="18.9" fill="#fff" stroke="#8c8c8c" stroke-width="0.8"/>
<rect x="86.7" y="322.5" width="3" height="20.5" fill="#fff" stroke="#8c8c8c" stroke-width="0.8"/>
<rect x="91" y="319.4" width="3" height="23.6" fill="#fff" stroke="#8c8c8c" stroke-width="0.8"/>
<rect x="95.4" y="319.4" width="3" height="23.6" fill="#fff" stroke="#8c8c8c" stroke-width="0.8"/>
<rect x="99.6" y="321.3" width="3" height="22.6" fill="#fff" stroke="#8c8c8c" stroke-width="0.8"/>
<rect x="103.7" y="321.7" width="3" height="22.2" fill="#fff" stroke="#8c8c8c" stroke-width="0.8"/>
<rect x="107.8" y="326.5" width="3" height="20.7" fill="#fff" stroke="#8c8c8c" stroke-width="0.8"/>
<rect x="112.1" y="321" width="3" height="20.5" fill="#fff" stroke="#8c8c8c" stroke-width="0.8"/>
<rect x="119.6" y="325.6" width="3" height="18.8" fill="#fff" stroke="#8c8c8c" stroke-width="0.8"/>
<rect x="130.1" y="330.3" width="3" height="19.7" fill="#fff" stroke="#8c8c8c" stroke-width="0.8"/>
<rect x="146.3" y="333.1" width="3" height="16.9" fill="#fff" stroke="#8c8c8c" stroke-width="0.8"/>
<line x1="168.6" y1="343" x2="168.6" y2="364" stroke="#8a8a8a" stroke-width="0.9"/>
<rect x="167.2" y="345.6" width="2.8" height="16.9" fill="#999" stroke="#6a6a6a" stroke-width="0.6"/>
<line x1="189.7" y1="315" x2="189.7" y2="349" stroke="#8a8a8a" stroke-width="0.9"/>
<rect x="188.3" y="319" width="2.8" height="26.5" fill="#999" stroke="#6a6a6a" stroke-width="0.6"/>
<line x1="210.7" y1="319.2" x2="210.7" y2="363.7" stroke="#8a8a8a" stroke-width="0.9"/>
<rect x="209.3" y="329.8" width="2.8" height="22.6" fill="#999" stroke="#6a6a6a" stroke-width="0.6"/>
<rect x="60.4" y="315.4" width="4.8" height="14.6" fill="#e2f4e6" stroke="#22a04c" stroke-width="0.9"/>
<rect x="61.9" y="316.6" width="1.8" height="12.2" fill="none" stroke="#6cc487" stroke-width="0.6"/>
<line x1="61.5" y1="322.3" x2="64.1" y2="322.3" stroke="#1a8a3e" stroke-width="1.2"/>
<line x1="62.8" y1="321.1" x2="62.8" y2="323.5" stroke="#1a8a3e" stroke-width="1"/>
<rect x="72.8" y="312.4" width="4.8" height="16.1" fill="#e2f4e6" stroke="#22a04c" stroke-width="0.9"/>
<rect x="74.3" y="313.6" width="1.8" height="13.7" fill="none" stroke="#6cc487" stroke-width="0.6"/>
<line x1="73.9" y1="320.5" x2="76.5" y2="320.5" stroke="#1a8a3e" stroke-width="1.2"/>
<line x1="75.2" y1="319.3" x2="75.2" y2="321.7" stroke="#1a8a3e" stroke-width="1"/>
<rect x="85.6" y="314.4" width="4.8" height="17.8" fill="#e2f4e6" stroke="#22a04c" stroke-width="0.9"/>
<rect x="87.1" y="315.6" width="1.8" height="15.4" fill="none" stroke="#6cc487" stroke-width="0.6"/>
<line x1="86.7" y1="321.8" x2="89.3" y2="321.8" stroke="#1a8a3e" stroke-width="1.2"/>
<line x1="88" y1="320.6" x2="88" y2="323" stroke="#1a8a3e" stroke-width="1"/>
<rect x="98.2" y="329" width="4.8" height="15" fill="#e2f4e6" stroke="#22a04c" stroke-width="0.9"/>
<rect x="99.7" y="330.2" width="1.8" height="12.6" fill="none" stroke="#6cc487" stroke-width="0.6"/>
<line x1="99.3" y1="336.5" x2="101.9" y2="336.5" stroke="#1a8a3e" stroke-width="1.2"/>
<line x1="100.6" y1="335.3" x2="100.6" y2="337.7" stroke="#1a8a3e" stroke-width="1"/>
<rect x="111.2" y="311.8" width="4.8" height="19.4" fill="#e2f4e6" stroke="#22a04c" stroke-width="0.9"/>
<rect x="112.7" y="313" width="1.8" height="17" fill="none" stroke="#6cc487" stroke-width="0.6"/>
<line x1="112.3" y1="321.2" x2="114.9" y2="321.2" stroke="#1a8a3e" stroke-width="1.2"/>
<line x1="113.6" y1="320" x2="113.6" y2="322.4" stroke="#1a8a3e" stroke-width="1"/>
<rect x="124" y="305.2" width="4.8" height="20.9" fill="#e2f4e6" stroke="#22a04c" stroke-width="0.9"/>
<rect x="125.5" y="306.4" width="1.8" height="18.5" fill="none" stroke="#6cc487" stroke-width="0.6"/>
<line x1="125.1" y1="315.6" x2="127.7" y2="315.6" stroke="#1a8a3e" stroke-width="1.2"/>
<line x1="126.4" y1="314.4" x2="126.4" y2="316.8" stroke="#1a8a3e" stroke-width="1"/>
<rect x="136.2" y="325" width="4.8" height="18.1" fill="#e2f4e6" stroke="#22a04c" stroke-width="0.9"/>
<rect x="137.7" y="326.2" width="1.8" height="15.7" fill="none" stroke="#6cc487" stroke-width="0.6"/>
<line x1="137.3" y1="334" x2="139.9" y2="334" stroke="#1a8a3e" stroke-width="1.2"/>
<line x1="138.6" y1="332.8" x2="138.6" y2="335.2" stroke="#1a8a3e" stroke-width="1"/>
<rect x="149.4" y="323.3" width="4.8" height="19.2" fill="#e2f4e6" stroke="#22a04c" stroke-width="0.9"/>
<rect x="150.9" y="324.5" width="1.8" height="16.8" fill="none" stroke="#6cc487" stroke-width="0.6"/>
<line x1="150.5" y1="332.1" x2="153.1" y2="332.1" stroke="#1a8a3e" stroke-width="1.2"/>
<line x1="151.8" y1="330.9" x2="151.8" y2="333.3" stroke="#1a8a3e" stroke-width="1"/>
<rect x="162" y="308.6" width="4.8" height="22.6" fill="#e2f4e6" stroke="#22a04c" stroke-width="0.9"/>
<rect x="163.5" y="309.8" width="1.8" height="20.2" fill="none" stroke="#6cc487" stroke-width="0.6"/>
<line x1="163.1" y1="319.3" x2="165.7" y2="319.3" stroke="#1a8a3e" stroke-width="1.2"/>
<line x1="164.4" y1="318.1" x2="164.4" y2="320.5" stroke="#1a8a3e" stroke-width="1"/>
<rect x="174.6" y="304.2" width="4.8" height="25.4" fill="#e2f4e6" stroke="#22a04c" stroke-width="0.9"/>
<rect x="176.1" y="305.4" width="1.8" height="23" fill="none" stroke="#6cc487" stroke-width="0.6"/>
<line x1="175.7" y1="316.9" x2="178.3" y2="316.9" stroke="#1a8a3e" stroke-width="1.2"/>
<line x1="177" y1="315.7" x2="177" y2="318.1" stroke="#1a8a3e" stroke-width="1"/>
<rect x="187.1" y="288.3" width="4.8" height="30.1" fill="#e2f4e6" stroke="#22a04c" stroke-width="0.9"/>
<rect x="188.6" y="289.5" width="1.8" height="27.7" fill="none" stroke="#6cc487" stroke-width="0.6"/>
<line x1="188.2" y1="303.6" x2="190.8" y2="303.6" stroke="#1a8a3e" stroke-width="1.2"/>
<line x1="189.5" y1="302.4" x2="189.5" y2="304.8" stroke="#1a8a3e" stroke-width="1"/>
<rect x="199.8" y="296.8" width="4.8" height="29.6" fill="#e2f4e6" stroke="#22a04c" stroke-width="0.9"/>
<rect x="201.3" y="298" width="1.8" height="27.2" fill="none" stroke="#6cc487" stroke-width="0.6"/>
<line x1="200.9" y1="311.2" x2="203.5" y2="311.2" stroke="#1a8a3e" stroke-width="1.2"/>
<line x1="202.2" y1="310" x2="202.2" y2="312.4" stroke="#1a8a3e" stroke-width="1"/>
<rect x="212.5" y="293" width="4.8" height="31.3" fill="#e2f4e6" stroke="#22a04c" stroke-width="0.9"/>
<rect x="214" y="294.2" width="1.8" height="28.9" fill="none" stroke="#6cc487" stroke-width="0.6"/>
<line x1="213.6" y1="308.4" x2="216.2" y2="308.4" stroke="#1a8a3e" stroke-width="1.2"/>
<line x1="214.9" y1="307.2" x2="214.9" y2="309.6" stroke="#1a8a3e" stroke-width="1"/>
<rect x="225.2" y="300.6" width="4.8" height="29.7" fill="#e2f4e6" stroke="#22a04c" stroke-width="0.9"/>
<rect x="226.7" y="301.8" width="1.8" height="27.3" fill="none" stroke="#6cc487" stroke-width="0.6"/>
<line x1="226.3" y1="315.2" x2="228.9" y2="315.2" stroke="#1a8a3e" stroke-width="1.2"/>
<line x1="227.6" y1="314" x2="227.6" y2="316.4" stroke="#1a8a3e" stroke-width="1"/>
<rect x="238.2" y="273.5" width="4.8" height="38.5" fill="#e2f4e6" stroke="#22a04c" stroke-width="0.9"/>
<rect x="239.7" y="274.7" width="1.8" height="36.1" fill="none" stroke="#6cc487" stroke-width="0.6"/>
<line x1="239.3" y1="292.5" x2="241.9" y2="292.5" stroke="#1a8a3e" stroke-width="1.2"/>
<line x1="240.6" y1="291.3" x2="240.6" y2="293.7" stroke="#1a8a3e" stroke-width="1"/>
<circle cx="50.9" cy="112.1" r="1.9" fill="#000"/>
<circle cx="49.1" cy="75.7" r="1.9" fill="#000"/>
<circle cx="54.5" cy="96.2" r="1.9" fill="#000"/>
<circle cx="58.5" cy="90.5" r="1.9" fill="#000"/>
<circle cx="62.6" cy="90.6" r="1.9" fill="#000"/>
<circle cx="66.9" cy="85.5" r="1.9" fill="#000"/>
<circle cx="71.3" cy="85.9" r="1.9" fill="#000"/>
<circle cx="75.4" cy="81.4" r="1.9" fill="#000"/>
<circle cx="79.5" cy="86" r="1.9" fill="#000"/>
<circle cx="83.7" cy="83.4" r="1.9" fill="#000"/>
<circle cx="88.1" cy="78.6" r="1.9" fill="#000"/>
<circle cx="92.4" cy="79.4" r="1.9" fill="#000"/>
<circle cx="96.5" cy="74.2" r="1.9" fill="#000"/>
<circle cx="100.8" cy="83.6" r="1.9" fill="#000"/>
<circle cx="105.2" cy="87" r="1.9" fill="#000"/>
<circle cx="109.3" cy="84.5" r="1.9" fill="#000"/>
<circle cx="113.7" cy="82.1" r="1.9" fill="#000"/>
<circle cx="120.9" cy="71.4" r="1.9" fill="#000"/>
<circle cx="131.6" cy="80" r="1.9" fill="#000"/>
<circle cx="147.4" cy="83.4" r="1.9" fill="#000"/>
<circle cx="168.5" cy="91" r="1.9" fill="#000"/>
<circle cx="189.7" cy="29.2" r="1.9" fill="#000"/>
<circle cx="210.8" cy="92.6" r="1.9" fill="#000"/>
<circle cx="48.8" cy="193.7" r="1.9" fill="#000"/>
<circle cx="50.7" cy="206.9" r="1.9" fill="#000"/>
<circle cx="54.1" cy="209.7" r="1.9" fill="#000"/>
<circle cx="58.6" cy="198" r="1.9" fill="#000"/>
<circle cx="63" cy="200.8" r="1.9" fill="#000"/>
<circle cx="67.1" cy="200.5" r="1.9" fill="#000"/>
<circle cx="71.4" cy="199.3" r="1.9" fill="#000"/>
<circle cx="75.8" cy="199.3" r="1.9" fill="#000"/>
<circle cx="79.9" cy="199.3" r="1.9" fill="#000"/>
<circle cx="84.2" cy="198.6" r="1.9" fill="#000"/>
<circle cx="88.4" cy="198.6" r="1.9" fill="#000"/>
<circle cx="92.5" cy="195.6" r="1.9" fill="#000"/>
<circle cx="96.9" cy="195.6" r="1.9" fill="#000"/>
<circle cx="100.9" cy="199.9" r="1.9" fill="#000"/>
<circle cx="105.1" cy="197.3" r="1.9" fill="#000"/>
<circle cx="109.4" cy="207.3" r="1.9" fill="#000"/>
<circle cx="113.6" cy="200.1" r="1.9" fill="#000"/>
<circle cx="121.1" cy="205.2" r="1.9" fill="#000"/>
<circle cx="131.6" cy="205.8" r="1.9" fill="#000"/>
<circle cx="147.5" cy="218" r="1.9" fill="#000"/>
<circle cx="168.7" cy="225.9" r="1.9" fill="#000"/>
<circle cx="189.8" cy="221.8" r="1.9" fill="#000"/>
<circle cx="210.5" cy="241.2" r="1.9" fill="#000"/>
<circle cx="48.8" cy="329.3" r="1.9" fill="#000"/>
<circle cx="51.1" cy="346.2" r="1.9" fill="#000"/>
<circle cx="54.1" cy="346.2" r="1.9" fill="#000"/>
<circle cx="58.2" cy="337.6" r="1.9" fill="#000"/>
<circle cx="62.6" cy="339.5" r="1.9" fill="#000"/>
<circle cx="67.1" cy="336.9" r="1.9" fill="#000"/>
<circle cx="71.1" cy="333.6" r="1.9" fill="#000"/>
<circle cx="75.2" cy="334.3" r="1.9" fill="#000"/>
<circle cx="79.3" cy="333.1" r="1.9" fill="#000"/>
<circle cx="84" cy="331.8" r="1.9" fill="#000"/>
<circle cx="88.2" cy="332.9" r="1.9" fill="#000"/>
<circle cx="92.5" cy="331.6" r="1.9" fill="#000"/>
<circle cx="96.9" cy="331.6" r="1.9" fill="#000"/>
<circle cx="101.1" cy="332.5" r="1.9" fill="#000"/>
<circle cx="105.2" cy="332.8" r="1.9" fill="#000"/>
<circle cx="109.3" cy="336.8" r="1.9" fill="#000"/>
<circle cx="113.6" cy="331.2" r="1.9" fill="#000"/>
<circle cx="121.1" cy="335.5" r="1.9" fill="#000"/>
<circle cx="131.6" cy="340" r="1.9" fill="#000"/>
<circle cx="147.8" cy="342.5" r="1.9" fill="#000"/>
<circle cx="168.6" cy="353.5" r="1.9" fill="#000"/>
<circle cx="189.7" cy="332.4" r="1.9" fill="#000"/>
<circle cx="210.7" cy="340.9" r="1.9" fill="#000"/>
<rect x="303.5" y="2.5" width="226.2" height="138" fill="none" stroke="#666" stroke-width="1"/>
<line x1="303.5" y1="140.5" x2="307.3" y2="140.5" stroke="#8a8a8a" stroke-width="1"/>
<line x1="525.9" y1="140.5" x2="529.7" y2="140.5" stroke="#8a8a8a" stroke-width="1"/>
<line x1="303.5" y1="135" x2="307.3" y2="135" stroke="#8a8a8a" stroke-width="1"/>
<line x1="525.9" y1="135" x2="529.7" y2="135" stroke="#8a8a8a" stroke-width="1"/>
<line x1="303.5" y1="129.5" x2="307.3" y2="129.5" stroke="#8a8a8a" stroke-width="1"/>
<line x1="525.9" y1="129.5" x2="529.7" y2="129.5" stroke="#8a8a8a" stroke-width="1"/>
<line x1="303.5" y1="124" x2="307.3" y2="124" stroke="#8a8a8a" stroke-width="1"/>
<line x1="525.9" y1="124" x2="529.7" y2="124" stroke="#8a8a8a" stroke-width="1"/>
<line x1="303.5" y1="118.5" x2="311" y2="118.5" stroke="#8a8a8a" stroke-width="1"/>
<line x1="522.2" y1="118.5" x2="529.7" y2="118.5" stroke="#8a8a8a" stroke-width="1"/>
<line x1="303.5" y1="113" x2="307.3" y2="113" stroke="#8a8a8a" stroke-width="1"/>
<line x1="525.9" y1="113" x2="529.7" y2="113" stroke="#8a8a8a" stroke-width="1"/>
<line x1="303.5" y1="107.5" x2="307.3" y2="107.5" stroke="#8a8a8a" stroke-width="1"/>
<line x1="525.9" y1="107.5" x2="529.7" y2="107.5" stroke="#8a8a8a" stroke-width="1"/>
<line x1="303.5" y1="102" x2="307.3" y2="102" stroke="#8a8a8a" stroke-width="1"/>
<line x1="525.9" y1="102" x2="529.7" y2="102" stroke="#8a8a8a" stroke-width="1"/>
<line x1="303.5" y1="96.5" x2="307.3" y2="96.5" stroke="#8a8a8a" stroke-width="1"/>
<line x1="525.9" y1="96.5" x2="529.7" y2="96.5" stroke="#8a8a8a" stroke-width="1"/>
<line x1="303.5" y1="91" x2="311" y2="91" stroke="#8a8a8a" stroke-width="1"/>
<line x1="522.2" y1="91" x2="529.7" y2="91" stroke="#8a8a8a" stroke-width="1"/>
<line x1="303.5" y1="85.5" x2="307.3" y2="85.5" stroke="#8a8a8a" stroke-width="1"/>
<line x1="525.9" y1="85.5" x2="529.7" y2="85.5" stroke="#8a8a8a" stroke-width="1"/>
<line x1="303.5" y1="80" x2="307.3" y2="80" stroke="#8a8a8a" stroke-width="1"/>
<line x1="525.9" y1="80" x2="529.7" y2="80" stroke="#8a8a8a" stroke-width="1"/>
<line x1="303.5" y1="74.5" x2="307.3" y2="74.5" stroke="#8a8a8a" stroke-width="1"/>
<line x1="525.9" y1="74.5" x2="529.7" y2="74.5" stroke="#8a8a8a" stroke-width="1"/>
<line x1="303.5" y1="69" x2="307.3" y2="69" stroke="#8a8a8a" stroke-width="1"/>
<line x1="525.9" y1="69" x2="529.7" y2="69" stroke="#8a8a8a" stroke-width="1"/>
<line x1="303.5" y1="63.5" x2="311" y2="63.5" stroke="#8a8a8a" stroke-width="1"/>
<line x1="522.2" y1="63.5" x2="529.7" y2="63.5" stroke="#8a8a8a" stroke-width="1"/>
<line x1="303.5" y1="58" x2="307.3" y2="58" stroke="#8a8a8a" stroke-width="1"/>
<line x1="525.9" y1="58" x2="529.7" y2="58" stroke="#8a8a8a" stroke-width="1"/>
<line x1="303.5" y1="52.5" x2="307.3" y2="52.5" stroke="#8a8a8a" stroke-width="1"/>
<line x1="525.9" y1="52.5" x2="529.7" y2="52.5" stroke="#8a8a8a" stroke-width="1"/>
<line x1="303.5" y1="47" x2="307.3" y2="47" stroke="#8a8a8a" stroke-width="1"/>
<line x1="525.9" y1="47" x2="529.7" y2="47" stroke="#8a8a8a" stroke-width="1"/>
<line x1="303.5" y1="41.5" x2="307.3" y2="41.5" stroke="#8a8a8a" stroke-width="1"/>
<line x1="525.9" y1="41.5" x2="529.7" y2="41.5" stroke="#8a8a8a" stroke-width="1"/>
<line x1="303.5" y1="36" x2="311" y2="36" stroke="#8a8a8a" stroke-width="1"/>
<line x1="522.2" y1="36" x2="529.7" y2="36" stroke="#8a8a8a" stroke-width="1"/>
<line x1="303.5" y1="30.5" x2="307.3" y2="30.5" stroke="#8a8a8a" stroke-width="1"/>
<line x1="525.9" y1="30.5" x2="529.7" y2="30.5" stroke="#8a8a8a" stroke-width="1"/>
<line x1="303.5" y1="25" x2="307.3" y2="25" stroke="#8a8a8a" stroke-width="1"/>
<line x1="525.9" y1="25" x2="529.7" y2="25" stroke="#8a8a8a" stroke-width="1"/>
<line x1="303.5" y1="19.5" x2="307.3" y2="19.5" stroke="#8a8a8a" stroke-width="1"/>
<line x1="525.9" y1="19.5" x2="529.7" y2="19.5" stroke="#8a8a8a" stroke-width="1"/>
<line x1="303.5" y1="14" x2="307.3" y2="14" stroke="#8a8a8a" stroke-width="1"/>
<line x1="525.9" y1="14" x2="529.7" y2="14" stroke="#8a8a8a" stroke-width="1"/>
<line x1="303.5" y1="8.5" x2="311" y2="8.5" stroke="#8a8a8a" stroke-width="1"/>
<line x1="522.2" y1="8.5" x2="529.7" y2="8.5" stroke="#8a8a8a" stroke-width="1"/>
<line x1="303.5" y1="3" x2="307.3" y2="3" stroke="#8a8a8a" stroke-width="1"/>
<line x1="525.9" y1="3" x2="529.7" y2="3" stroke="#8a8a8a" stroke-width="1"/>
<text x="286.88" y="122.7" font-size="10.86" font-weight="bold" fill="#000" textLength="15.39" lengthAdjust="spacingAndGlyphs">0.5</text>
<text x="296.05" y="95.2" font-size="11.01" font-weight="bold" fill="#000" textLength="6.25" lengthAdjust="spacingAndGlyphs">1</text>
<text x="286.66" y="67.7" font-size="11.01" font-weight="bold" fill="#000" textLength="15.62" lengthAdjust="spacingAndGlyphs">1.5</text>
<text x="296.3" y="40.2" font-size="10.86" font-weight="bold" fill="#000" textLength="6.16" lengthAdjust="spacingAndGlyphs">2</text>
<text x="286.88" y="12.7" font-size="10.86" font-weight="bold" fill="#000" textLength="15.39" lengthAdjust="spacingAndGlyphs">2.5</text>
<line x1="303.5" y1="140.5" x2="303.5" y2="137.3" stroke="#8a8a8a" stroke-width="1"/>
<line x1="303.5" y1="2.5" x2="303.5" y2="5.7" stroke="#8a8a8a" stroke-width="1"/>
<line x1="309.96" y1="140.5" x2="309.96" y2="139" stroke="#8a8a8a" stroke-width="1"/>
<line x1="309.96" y1="2.5" x2="309.96" y2="4" stroke="#8a8a8a" stroke-width="1"/>
<line x1="316.42" y1="140.5" x2="316.42" y2="139" stroke="#8a8a8a" stroke-width="1"/>
<line x1="316.42" y1="2.5" x2="316.42" y2="4" stroke="#8a8a8a" stroke-width="1"/>
<line x1="322.89" y1="140.5" x2="322.89" y2="139" stroke="#8a8a8a" stroke-width="1"/>
<line x1="322.89" y1="2.5" x2="322.89" y2="4" stroke="#8a8a8a" stroke-width="1"/>
<line x1="329.35" y1="140.5" x2="329.35" y2="139" stroke="#8a8a8a" stroke-width="1"/>
<line x1="329.35" y1="2.5" x2="329.35" y2="4" stroke="#8a8a8a" stroke-width="1"/>
<line x1="335.81" y1="140.5" x2="335.81" y2="137.3" stroke="#8a8a8a" stroke-width="1"/>
<line x1="335.81" y1="2.5" x2="335.81" y2="5.7" stroke="#8a8a8a" stroke-width="1"/>
<line x1="342.27" y1="140.5" x2="342.27" y2="139" stroke="#8a8a8a" stroke-width="1"/>
<line x1="342.27" y1="2.5" x2="342.27" y2="4" stroke="#8a8a8a" stroke-width="1"/>
<line x1="348.73" y1="140.5" x2="348.73" y2="139" stroke="#8a8a8a" stroke-width="1"/>
<line x1="348.73" y1="2.5" x2="348.73" y2="4" stroke="#8a8a8a" stroke-width="1"/>
<line x1="355.2" y1="140.5" x2="355.2" y2="139" stroke="#8a8a8a" stroke-width="1"/>
<line x1="355.2" y1="2.5" x2="355.2" y2="4" stroke="#8a8a8a" stroke-width="1"/>
<line x1="361.66" y1="140.5" x2="361.66" y2="139" stroke="#8a8a8a" stroke-width="1"/>
<line x1="361.66" y1="2.5" x2="361.66" y2="4" stroke="#8a8a8a" stroke-width="1"/>
<line x1="368.12" y1="140.5" x2="368.12" y2="137.3" stroke="#8a8a8a" stroke-width="1"/>
<line x1="368.12" y1="2.5" x2="368.12" y2="5.7" stroke="#8a8a8a" stroke-width="1"/>
<line x1="374.58" y1="140.5" x2="374.58" y2="139" stroke="#8a8a8a" stroke-width="1"/>
<line x1="374.58" y1="2.5" x2="374.58" y2="4" stroke="#8a8a8a" stroke-width="1"/>
<line x1="381.04" y1="140.5" x2="381.04" y2="139" stroke="#8a8a8a" stroke-width="1"/>
<line x1="381.04" y1="2.5" x2="381.04" y2="4" stroke="#8a8a8a" stroke-width="1"/>
<line x1="387.51" y1="140.5" x2="387.51" y2="139" stroke="#8a8a8a" stroke-width="1"/>
<line x1="387.51" y1="2.5" x2="387.51" y2="4" stroke="#8a8a8a" stroke-width="1"/>
<line x1="393.97" y1="140.5" x2="393.97" y2="139" stroke="#8a8a8a" stroke-width="1"/>
<line x1="393.97" y1="2.5" x2="393.97" y2="4" stroke="#8a8a8a" stroke-width="1"/>
<line x1="400.43" y1="140.5" x2="400.43" y2="137.3" stroke="#8a8a8a" stroke-width="1"/>
<line x1="400.43" y1="2.5" x2="400.43" y2="5.7" stroke="#8a8a8a" stroke-width="1"/>
<line x1="406.89" y1="140.5" x2="406.89" y2="139" stroke="#8a8a8a" stroke-width="1"/>
<line x1="406.89" y1="2.5" x2="406.89" y2="4" stroke="#8a8a8a" stroke-width="1"/>
<line x1="413.35" y1="140.5" x2="413.35" y2="139" stroke="#8a8a8a" stroke-width="1"/>
<line x1="413.35" y1="2.5" x2="413.35" y2="4" stroke="#8a8a8a" stroke-width="1"/>
<line x1="419.82" y1="140.5" x2="419.82" y2="139" stroke="#8a8a8a" stroke-width="1"/>
<line x1="419.82" y1="2.5" x2="419.82" y2="4" stroke="#8a8a8a" stroke-width="1"/>
<line x1="426.28" y1="140.5" x2="426.28" y2="139" stroke="#8a8a8a" stroke-width="1"/>
<line x1="426.28" y1="2.5" x2="426.28" y2="4" stroke="#8a8a8a" stroke-width="1"/>
<line x1="432.74" y1="140.5" x2="432.74" y2="137.3" stroke="#8a8a8a" stroke-width="1"/>
<line x1="432.74" y1="2.5" x2="432.74" y2="5.7" stroke="#8a8a8a" stroke-width="1"/>
<line x1="439.2" y1="140.5" x2="439.2" y2="139" stroke="#8a8a8a" stroke-width="1"/>
<line x1="439.2" y1="2.5" x2="439.2" y2="4" stroke="#8a8a8a" stroke-width="1"/>
<line x1="445.66" y1="140.5" x2="445.66" y2="139" stroke="#8a8a8a" stroke-width="1"/>
<line x1="445.66" y1="2.5" x2="445.66" y2="4" stroke="#8a8a8a" stroke-width="1"/>
<line x1="452.13" y1="140.5" x2="452.13" y2="139" stroke="#8a8a8a" stroke-width="1"/>
<line x1="452.13" y1="2.5" x2="452.13" y2="4" stroke="#8a8a8a" stroke-width="1"/>
<line x1="458.59" y1="140.5" x2="458.59" y2="139" stroke="#8a8a8a" stroke-width="1"/>
<line x1="458.59" y1="2.5" x2="458.59" y2="4" stroke="#8a8a8a" stroke-width="1"/>
<line x1="465.05" y1="140.5" x2="465.05" y2="137.3" stroke="#8a8a8a" stroke-width="1"/>
<line x1="465.05" y1="2.5" x2="465.05" y2="5.7" stroke="#8a8a8a" stroke-width="1"/>
<line x1="471.51" y1="140.5" x2="471.51" y2="139" stroke="#8a8a8a" stroke-width="1"/>
<line x1="471.51" y1="2.5" x2="471.51" y2="4" stroke="#8a8a8a" stroke-width="1"/>
<line x1="477.97" y1="140.5" x2="477.97" y2="139" stroke="#8a8a8a" stroke-width="1"/>
<line x1="477.97" y1="2.5" x2="477.97" y2="4" stroke="#8a8a8a" stroke-width="1"/>
<line x1="484.44" y1="140.5" x2="484.44" y2="139" stroke="#8a8a8a" stroke-width="1"/>
<line x1="484.44" y1="2.5" x2="484.44" y2="4" stroke="#8a8a8a" stroke-width="1"/>
<line x1="490.9" y1="140.5" x2="490.9" y2="139" stroke="#8a8a8a" stroke-width="1"/>
<line x1="490.9" y1="2.5" x2="490.9" y2="4" stroke="#8a8a8a" stroke-width="1"/>
<line x1="497.36" y1="140.5" x2="497.36" y2="137.3" stroke="#8a8a8a" stroke-width="1"/>
<line x1="497.36" y1="2.5" x2="497.36" y2="5.7" stroke="#8a8a8a" stroke-width="1"/>
<line x1="503.82" y1="140.5" x2="503.82" y2="139" stroke="#8a8a8a" stroke-width="1"/>
<line x1="503.82" y1="2.5" x2="503.82" y2="4" stroke="#8a8a8a" stroke-width="1"/>
<line x1="510.28" y1="140.5" x2="510.28" y2="139" stroke="#8a8a8a" stroke-width="1"/>
<line x1="510.28" y1="2.5" x2="510.28" y2="4" stroke="#8a8a8a" stroke-width="1"/>
<line x1="516.75" y1="140.5" x2="516.75" y2="139" stroke="#8a8a8a" stroke-width="1"/>
<line x1="516.75" y1="2.5" x2="516.75" y2="4" stroke="#8a8a8a" stroke-width="1"/>
<line x1="523.21" y1="140.5" x2="523.21" y2="139" stroke="#8a8a8a" stroke-width="1"/>
<line x1="523.21" y1="2.5" x2="523.21" y2="4" stroke="#8a8a8a" stroke-width="1"/>
<line x1="529.67" y1="140.5" x2="529.67" y2="137.3" stroke="#8a8a8a" stroke-width="1"/>
<line x1="529.67" y1="2.5" x2="529.67" y2="5.7" stroke="#8a8a8a" stroke-width="1"/>
<rect x="523.7" y="84.3" width="5.3" height="13" fill="#000"/>
<rect x="303.5" y="140.5" width="226.2" height="136.5" fill="none" stroke="#666" stroke-width="1"/>
<line x1="303.5" y1="277.5" x2="307.3" y2="277.5" stroke="#8a8a8a" stroke-width="1"/>
<line x1="525.9" y1="277.5" x2="529.7" y2="277.5" stroke="#8a8a8a" stroke-width="1"/>
<line x1="303.5" y1="272" x2="307.3" y2="272" stroke="#8a8a8a" stroke-width="1"/>
<line x1="525.9" y1="272" x2="529.7" y2="272" stroke="#8a8a8a" stroke-width="1"/>
<line x1="303.5" y1="266.5" x2="307.3" y2="266.5" stroke="#8a8a8a" stroke-width="1"/>
<line x1="525.9" y1="266.5" x2="529.7" y2="266.5" stroke="#8a8a8a" stroke-width="1"/>
<line x1="303.5" y1="261" x2="307.3" y2="261" stroke="#8a8a8a" stroke-width="1"/>
<line x1="525.9" y1="261" x2="529.7" y2="261" stroke="#8a8a8a" stroke-width="1"/>
<line x1="303.5" y1="255.5" x2="311" y2="255.5" stroke="#8a8a8a" stroke-width="1"/>
<line x1="522.2" y1="255.5" x2="529.7" y2="255.5" stroke="#8a8a8a" stroke-width="1"/>
<line x1="303.5" y1="250" x2="307.3" y2="250" stroke="#8a8a8a" stroke-width="1"/>
<line x1="525.9" y1="250" x2="529.7" y2="250" stroke="#8a8a8a" stroke-width="1"/>
<line x1="303.5" y1="244.5" x2="307.3" y2="244.5" stroke="#8a8a8a" stroke-width="1"/>
<line x1="525.9" y1="244.5" x2="529.7" y2="244.5" stroke="#8a8a8a" stroke-width="1"/>
<line x1="303.5" y1="239" x2="307.3" y2="239" stroke="#8a8a8a" stroke-width="1"/>
<line x1="525.9" y1="239" x2="529.7" y2="239" stroke="#8a8a8a" stroke-width="1"/>
<line x1="303.5" y1="233.5" x2="307.3" y2="233.5" stroke="#8a8a8a" stroke-width="1"/>
<line x1="525.9" y1="233.5" x2="529.7" y2="233.5" stroke="#8a8a8a" stroke-width="1"/>
<line x1="303.5" y1="228" x2="311" y2="228" stroke="#8a8a8a" stroke-width="1"/>
<line x1="522.2" y1="228" x2="529.7" y2="228" stroke="#8a8a8a" stroke-width="1"/>
<line x1="303.5" y1="222.5" x2="307.3" y2="222.5" stroke="#8a8a8a" stroke-width="1"/>
<line x1="525.9" y1="222.5" x2="529.7" y2="222.5" stroke="#8a8a8a" stroke-width="1"/>
<line x1="303.5" y1="217" x2="307.3" y2="217" stroke="#8a8a8a" stroke-width="1"/>
<line x1="525.9" y1="217" x2="529.7" y2="217" stroke="#8a8a8a" stroke-width="1"/>
<line x1="303.5" y1="211.5" x2="307.3" y2="211.5" stroke="#8a8a8a" stroke-width="1"/>
<line x1="525.9" y1="211.5" x2="529.7" y2="211.5" stroke="#8a8a8a" stroke-width="1"/>
<line x1="303.5" y1="206" x2="307.3" y2="206" stroke="#8a8a8a" stroke-width="1"/>
<line x1="525.9" y1="206" x2="529.7" y2="206" stroke="#8a8a8a" stroke-width="1"/>
<line x1="303.5" y1="200.5" x2="311" y2="200.5" stroke="#8a8a8a" stroke-width="1"/>
<line x1="522.2" y1="200.5" x2="529.7" y2="200.5" stroke="#8a8a8a" stroke-width="1"/>
<line x1="303.5" y1="195" x2="307.3" y2="195" stroke="#8a8a8a" stroke-width="1"/>
<line x1="525.9" y1="195" x2="529.7" y2="195" stroke="#8a8a8a" stroke-width="1"/>
<line x1="303.5" y1="189.5" x2="307.3" y2="189.5" stroke="#8a8a8a" stroke-width="1"/>
<line x1="525.9" y1="189.5" x2="529.7" y2="189.5" stroke="#8a8a8a" stroke-width="1"/>
<line x1="303.5" y1="184" x2="307.3" y2="184" stroke="#8a8a8a" stroke-width="1"/>
<line x1="525.9" y1="184" x2="529.7" y2="184" stroke="#8a8a8a" stroke-width="1"/>
<line x1="303.5" y1="178.5" x2="307.3" y2="178.5" stroke="#8a8a8a" stroke-width="1"/>
<line x1="525.9" y1="178.5" x2="529.7" y2="178.5" stroke="#8a8a8a" stroke-width="1"/>
<line x1="303.5" y1="173" x2="311" y2="173" stroke="#8a8a8a" stroke-width="1"/>
<line x1="522.2" y1="173" x2="529.7" y2="173" stroke="#8a8a8a" stroke-width="1"/>
<line x1="303.5" y1="167.5" x2="307.3" y2="167.5" stroke="#8a8a8a" stroke-width="1"/>
<line x1="525.9" y1="167.5" x2="529.7" y2="167.5" stroke="#8a8a8a" stroke-width="1"/>
<line x1="303.5" y1="162" x2="307.3" y2="162" stroke="#8a8a8a" stroke-width="1"/>
<line x1="525.9" y1="162" x2="529.7" y2="162" stroke="#8a8a8a" stroke-width="1"/>
<line x1="303.5" y1="156.5" x2="307.3" y2="156.5" stroke="#8a8a8a" stroke-width="1"/>
<line x1="525.9" y1="156.5" x2="529.7" y2="156.5" stroke="#8a8a8a" stroke-width="1"/>
<line x1="303.5" y1="151" x2="307.3" y2="151" stroke="#8a8a8a" stroke-width="1"/>
<line x1="525.9" y1="151" x2="529.7" y2="151" stroke="#8a8a8a" stroke-width="1"/>
<line x1="303.5" y1="145.5" x2="311" y2="145.5" stroke="#8a8a8a" stroke-width="1"/>
<line x1="522.2" y1="145.5" x2="529.7" y2="145.5" stroke="#8a8a8a" stroke-width="1"/>
<line x1="303.5" y1="140" x2="307.3" y2="140" stroke="#8a8a8a" stroke-width="1"/>
<line x1="525.9" y1="140" x2="529.7" y2="140" stroke="#8a8a8a" stroke-width="1"/>
<text x="286.88" y="259.7" font-size="10.86" font-weight="bold" fill="#000" textLength="15.39" lengthAdjust="spacingAndGlyphs">0.5</text>
<text x="296.05" y="232.2" font-size="11.01" font-weight="bold" fill="#000" textLength="6.25" lengthAdjust="spacingAndGlyphs">1</text>
<text x="286.66" y="204.7" font-size="11.01" font-weight="bold" fill="#000" textLength="15.62" lengthAdjust="spacingAndGlyphs">1.5</text>
<text x="296.3" y="177.2" font-size="10.86" font-weight="bold" fill="#000" textLength="6.16" lengthAdjust="spacingAndGlyphs">2</text>
<text x="286.88" y="149.7" font-size="10.86" font-weight="bold" fill="#000" textLength="15.39" lengthAdjust="spacingAndGlyphs">2.5</text>
<line x1="303.5" y1="277" x2="303.5" y2="273.8" stroke="#8a8a8a" stroke-width="1"/>
<line x1="303.5" y1="140.5" x2="303.5" y2="143.7" stroke="#8a8a8a" stroke-width="1"/>
<line x1="309.96" y1="277" x2="309.96" y2="275.5" stroke="#8a8a8a" stroke-width="1"/>
<line x1="309.96" y1="140.5" x2="309.96" y2="142" stroke="#8a8a8a" stroke-width="1"/>
<line x1="316.42" y1="277" x2="316.42" y2="275.5" stroke="#8a8a8a" stroke-width="1"/>
<line x1="316.42" y1="140.5" x2="316.42" y2="142" stroke="#8a8a8a" stroke-width="1"/>
<line x1="322.89" y1="277" x2="322.89" y2="275.5" stroke="#8a8a8a" stroke-width="1"/>
<line x1="322.89" y1="140.5" x2="322.89" y2="142" stroke="#8a8a8a" stroke-width="1"/>
<line x1="329.35" y1="277" x2="329.35" y2="275.5" stroke="#8a8a8a" stroke-width="1"/>
<line x1="329.35" y1="140.5" x2="329.35" y2="142" stroke="#8a8a8a" stroke-width="1"/>
<line x1="335.81" y1="277" x2="335.81" y2="273.8" stroke="#8a8a8a" stroke-width="1"/>
<line x1="335.81" y1="140.5" x2="335.81" y2="143.7" stroke="#8a8a8a" stroke-width="1"/>
<line x1="342.27" y1="277" x2="342.27" y2="275.5" stroke="#8a8a8a" stroke-width="1"/>
<line x1="342.27" y1="140.5" x2="342.27" y2="142" stroke="#8a8a8a" stroke-width="1"/>
<line x1="348.73" y1="277" x2="348.73" y2="275.5" stroke="#8a8a8a" stroke-width="1"/>
<line x1="348.73" y1="140.5" x2="348.73" y2="142" stroke="#8a8a8a" stroke-width="1"/>
<line x1="355.2" y1="277" x2="355.2" y2="275.5" stroke="#8a8a8a" stroke-width="1"/>
<line x1="355.2" y1="140.5" x2="355.2" y2="142" stroke="#8a8a8a" stroke-width="1"/>
<line x1="361.66" y1="277" x2="361.66" y2="275.5" stroke="#8a8a8a" stroke-width="1"/>
<line x1="361.66" y1="140.5" x2="361.66" y2="142" stroke="#8a8a8a" stroke-width="1"/>
<line x1="368.12" y1="277" x2="368.12" y2="273.8" stroke="#8a8a8a" stroke-width="1"/>
<line x1="368.12" y1="140.5" x2="368.12" y2="143.7" stroke="#8a8a8a" stroke-width="1"/>
<line x1="374.58" y1="277" x2="374.58" y2="275.5" stroke="#8a8a8a" stroke-width="1"/>
<line x1="374.58" y1="140.5" x2="374.58" y2="142" stroke="#8a8a8a" stroke-width="1"/>
<line x1="381.04" y1="277" x2="381.04" y2="275.5" stroke="#8a8a8a" stroke-width="1"/>
<line x1="381.04" y1="140.5" x2="381.04" y2="142" stroke="#8a8a8a" stroke-width="1"/>
<line x1="387.51" y1="277" x2="387.51" y2="275.5" stroke="#8a8a8a" stroke-width="1"/>
<line x1="387.51" y1="140.5" x2="387.51" y2="142" stroke="#8a8a8a" stroke-width="1"/>
<line x1="393.97" y1="277" x2="393.97" y2="275.5" stroke="#8a8a8a" stroke-width="1"/>
<line x1="393.97" y1="140.5" x2="393.97" y2="142" stroke="#8a8a8a" stroke-width="1"/>
<line x1="400.43" y1="277" x2="400.43" y2="273.8" stroke="#8a8a8a" stroke-width="1"/>
<line x1="400.43" y1="140.5" x2="400.43" y2="143.7" stroke="#8a8a8a" stroke-width="1"/>
<line x1="406.89" y1="277" x2="406.89" y2="275.5" stroke="#8a8a8a" stroke-width="1"/>
<line x1="406.89" y1="140.5" x2="406.89" y2="142" stroke="#8a8a8a" stroke-width="1"/>
<line x1="413.35" y1="277" x2="413.35" y2="275.5" stroke="#8a8a8a" stroke-width="1"/>
<line x1="413.35" y1="140.5" x2="413.35" y2="142" stroke="#8a8a8a" stroke-width="1"/>
<line x1="419.82" y1="277" x2="419.82" y2="275.5" stroke="#8a8a8a" stroke-width="1"/>
<line x1="419.82" y1="140.5" x2="419.82" y2="142" stroke="#8a8a8a" stroke-width="1"/>
<line x1="426.28" y1="277" x2="426.28" y2="275.5" stroke="#8a8a8a" stroke-width="1"/>
<line x1="426.28" y1="140.5" x2="426.28" y2="142" stroke="#8a8a8a" stroke-width="1"/>
<line x1="432.74" y1="277" x2="432.74" y2="273.8" stroke="#8a8a8a" stroke-width="1"/>
<line x1="432.74" y1="140.5" x2="432.74" y2="143.7" stroke="#8a8a8a" stroke-width="1"/>
<line x1="439.2" y1="277" x2="439.2" y2="275.5" stroke="#8a8a8a" stroke-width="1"/>
<line x1="439.2" y1="140.5" x2="439.2" y2="142" stroke="#8a8a8a" stroke-width="1"/>
<line x1="445.66" y1="277" x2="445.66" y2="275.5" stroke="#8a8a8a" stroke-width="1"/>
<line x1="445.66" y1="140.5" x2="445.66" y2="142" stroke="#8a8a8a" stroke-width="1"/>
<line x1="452.13" y1="277" x2="452.13" y2="275.5" stroke="#8a8a8a" stroke-width="1"/>
<line x1="452.13" y1="140.5" x2="452.13" y2="142" stroke="#8a8a8a" stroke-width="1"/>
<line x1="458.59" y1="277" x2="458.59" y2="275.5" stroke="#8a8a8a" stroke-width="1"/>
<line x1="458.59" y1="140.5" x2="458.59" y2="142" stroke="#8a8a8a" stroke-width="1"/>
<line x1="465.05" y1="277" x2="465.05" y2="273.8" stroke="#8a8a8a" stroke-width="1"/>
<line x1="465.05" y1="140.5" x2="465.05" y2="143.7" stroke="#8a8a8a" stroke-width="1"/>
<line x1="471.51" y1="277" x2="471.51" y2="275.5" stroke="#8a8a8a" stroke-width="1"/>
<line x1="471.51" y1="140.5" x2="471.51" y2="142" stroke="#8a8a8a" stroke-width="1"/>
<line x1="477.97" y1="277" x2="477.97" y2="275.5" stroke="#8a8a8a" stroke-width="1"/>
<line x1="477.97" y1="140.5" x2="477.97" y2="142" stroke="#8a8a8a" stroke-width="1"/>
<line x1="484.44" y1="277" x2="484.44" y2="275.5" stroke="#8a8a8a" stroke-width="1"/>
<line x1="484.44" y1="140.5" x2="484.44" y2="142" stroke="#8a8a8a" stroke-width="1"/>
<line x1="490.9" y1="277" x2="490.9" y2="275.5" stroke="#8a8a8a" stroke-width="1"/>
<line x1="490.9" y1="140.5" x2="490.9" y2="142" stroke="#8a8a8a" stroke-width="1"/>
<line x1="497.36" y1="277" x2="497.36" y2="273.8" stroke="#8a8a8a" stroke-width="1"/>
<line x1="497.36" y1="140.5" x2="497.36" y2="143.7" stroke="#8a8a8a" stroke-width="1"/>
<line x1="503.82" y1="277" x2="503.82" y2="275.5" stroke="#8a8a8a" stroke-width="1"/>
<line x1="503.82" y1="140.5" x2="503.82" y2="142" stroke="#8a8a8a" stroke-width="1"/>
<line x1="510.28" y1="277" x2="510.28" y2="275.5" stroke="#8a8a8a" stroke-width="1"/>
<line x1="510.28" y1="140.5" x2="510.28" y2="142" stroke="#8a8a8a" stroke-width="1"/>
<line x1="516.75" y1="277" x2="516.75" y2="275.5" stroke="#8a8a8a" stroke-width="1"/>
<line x1="516.75" y1="140.5" x2="516.75" y2="142" stroke="#8a8a8a" stroke-width="1"/>
<line x1="523.21" y1="277" x2="523.21" y2="275.5" stroke="#8a8a8a" stroke-width="1"/>
<line x1="523.21" y1="140.5" x2="523.21" y2="142" stroke="#8a8a8a" stroke-width="1"/>
<line x1="529.67" y1="277" x2="529.67" y2="273.8" stroke="#8a8a8a" stroke-width="1"/>
<line x1="529.67" y1="140.5" x2="529.67" y2="143.7" stroke="#8a8a8a" stroke-width="1"/>
<rect x="523.7" y="221.6" width="5.3" height="12" fill="#000"/>
<rect x="303.5" y="277" width="226.2" height="118.5" fill="none" stroke="#666" stroke-width="1"/>
<line x1="303.5" y1="395.52" x2="307.3" y2="395.52" stroke="#8a8a8a" stroke-width="1"/>
<line x1="525.9" y1="395.52" x2="529.7" y2="395.52" stroke="#8a8a8a" stroke-width="1"/>
<line x1="303.5" y1="390.79" x2="307.3" y2="390.79" stroke="#8a8a8a" stroke-width="1"/>
<line x1="525.9" y1="390.79" x2="529.7" y2="390.79" stroke="#8a8a8a" stroke-width="1"/>
<line x1="303.5" y1="386.06" x2="307.3" y2="386.06" stroke="#8a8a8a" stroke-width="1"/>
<line x1="525.9" y1="386.06" x2="529.7" y2="386.06" stroke="#8a8a8a" stroke-width="1"/>
<line x1="303.5" y1="381.33" x2="307.3" y2="381.33" stroke="#8a8a8a" stroke-width="1"/>
<line x1="525.9" y1="381.33" x2="529.7" y2="381.33" stroke="#8a8a8a" stroke-width="1"/>
<line x1="303.5" y1="376.6" x2="311" y2="376.6" stroke="#8a8a8a" stroke-width="1"/>
<line x1="522.2" y1="376.6" x2="529.7" y2="376.6" stroke="#8a8a8a" stroke-width="1"/>
<line x1="303.5" y1="371.87" x2="307.3" y2="371.87" stroke="#8a8a8a" stroke-width="1"/>
<line x1="525.9" y1="371.87" x2="529.7" y2="371.87" stroke="#8a8a8a" stroke-width="1"/>
<line x1="303.5" y1="367.14" x2="307.3" y2="367.14" stroke="#8a8a8a" stroke-width="1"/>
<line x1="525.9" y1="367.14" x2="529.7" y2="367.14" stroke="#8a8a8a" stroke-width="1"/>
<line x1="303.5" y1="362.41" x2="307.3" y2="362.41" stroke="#8a8a8a" stroke-width="1"/>
<line x1="525.9" y1="362.41" x2="529.7" y2="362.41" stroke="#8a8a8a" stroke-width="1"/>
<line x1="303.5" y1="357.68" x2="307.3" y2="357.68" stroke="#8a8a8a" stroke-width="1"/>
<line x1="525.9" y1="357.68" x2="529.7" y2="357.68" stroke="#8a8a8a" stroke-width="1"/>
<line x1="303.5" y1="352.95" x2="311" y2="352.95" stroke="#8a8a8a" stroke-width="1"/>
<line x1="522.2" y1="352.95" x2="529.7" y2="352.95" stroke="#8a8a8a" stroke-width="1"/>
<line x1="303.5" y1="348.22" x2="307.3" y2="348.22" stroke="#8a8a8a" stroke-width="1"/>
<line x1="525.9" y1="348.22" x2="529.7" y2="348.22" stroke="#8a8a8a" stroke-width="1"/>
<line x1="303.5" y1="343.49" x2="307.3" y2="343.49" stroke="#8a8a8a" stroke-width="1"/>
<line x1="525.9" y1="343.49" x2="529.7" y2="343.49" stroke="#8a8a8a" stroke-width="1"/>
<line x1="303.5" y1="338.76" x2="307.3" y2="338.76" stroke="#8a8a8a" stroke-width="1"/>
<line x1="525.9" y1="338.76" x2="529.7" y2="338.76" stroke="#8a8a8a" stroke-width="1"/>
<line x1="303.5" y1="334.03" x2="307.3" y2="334.03" stroke="#8a8a8a" stroke-width="1"/>
<line x1="525.9" y1="334.03" x2="529.7" y2="334.03" stroke="#8a8a8a" stroke-width="1"/>
<line x1="303.5" y1="329.3" x2="311" y2="329.3" stroke="#8a8a8a" stroke-width="1"/>
<line x1="522.2" y1="329.3" x2="529.7" y2="329.3" stroke="#8a8a8a" stroke-width="1"/>
<line x1="303.5" y1="324.57" x2="307.3" y2="324.57" stroke="#8a8a8a" stroke-width="1"/>
<line x1="525.9" y1="324.57" x2="529.7" y2="324.57" stroke="#8a8a8a" stroke-width="1"/>
<line x1="303.5" y1="319.84" x2="307.3" y2="319.84" stroke="#8a8a8a" stroke-width="1"/>
<line x1="525.9" y1="319.84" x2="529.7" y2="319.84" stroke="#8a8a8a" stroke-width="1"/>
<line x1="303.5" y1="315.11" x2="307.3" y2="315.11" stroke="#8a8a8a" stroke-width="1"/>
<line x1="525.9" y1="315.11" x2="529.7" y2="315.11" stroke="#8a8a8a" stroke-width="1"/>
<line x1="303.5" y1="310.38" x2="307.3" y2="310.38" stroke="#8a8a8a" stroke-width="1"/>
<line x1="525.9" y1="310.38" x2="529.7" y2="310.38" stroke="#8a8a8a" stroke-width="1"/>
<line x1="303.5" y1="305.65" x2="311" y2="305.65" stroke="#8a8a8a" stroke-width="1"/>
<line x1="522.2" y1="305.65" x2="529.7" y2="305.65" stroke="#8a8a8a" stroke-width="1"/>
<line x1="303.5" y1="300.92" x2="307.3" y2="300.92" stroke="#8a8a8a" stroke-width="1"/>
<line x1="525.9" y1="300.92" x2="529.7" y2="300.92" stroke="#8a8a8a" stroke-width="1"/>
<line x1="303.5" y1="296.19" x2="307.3" y2="296.19" stroke="#8a8a8a" stroke-width="1"/>
<line x1="525.9" y1="296.19" x2="529.7" y2="296.19" stroke="#8a8a8a" stroke-width="1"/>
<line x1="303.5" y1="291.46" x2="307.3" y2="291.46" stroke="#8a8a8a" stroke-width="1"/>
<line x1="525.9" y1="291.46" x2="529.7" y2="291.46" stroke="#8a8a8a" stroke-width="1"/>
<line x1="303.5" y1="286.73" x2="307.3" y2="286.73" stroke="#8a8a8a" stroke-width="1"/>
<line x1="525.9" y1="286.73" x2="529.7" y2="286.73" stroke="#8a8a8a" stroke-width="1"/>
<line x1="303.5" y1="282" x2="311" y2="282" stroke="#8a8a8a" stroke-width="1"/>
<line x1="522.2" y1="282" x2="529.7" y2="282" stroke="#8a8a8a" stroke-width="1"/>
<line x1="303.5" y1="277.27" x2="307.3" y2="277.27" stroke="#8a8a8a" stroke-width="1"/>
<line x1="525.9" y1="277.27" x2="529.7" y2="277.27" stroke="#8a8a8a" stroke-width="1"/>
<text x="286.88" y="380.8" font-size="10.86" font-weight="bold" fill="#000" textLength="15.39" lengthAdjust="spacingAndGlyphs">0.5</text>
<text x="296.05" y="357.15" font-size="11.01" font-weight="bold" fill="#000" textLength="6.25" lengthAdjust="spacingAndGlyphs">1</text>
<text x="286.66" y="333.5" font-size="11.01" font-weight="bold" fill="#000" textLength="15.62" lengthAdjust="spacingAndGlyphs">1.5</text>
<text x="296.3" y="309.85" font-size="10.86" font-weight="bold" fill="#000" textLength="6.16" lengthAdjust="spacingAndGlyphs">2</text>
<text x="286.88" y="286.2" font-size="10.86" font-weight="bold" fill="#000" textLength="15.39" lengthAdjust="spacingAndGlyphs">2.5</text>
<line x1="303.5" y1="395.5" x2="303.5" y2="392.3" stroke="#8a8a8a" stroke-width="1"/>
<line x1="303.5" y1="277" x2="303.5" y2="280.2" stroke="#8a8a8a" stroke-width="1"/>
<line x1="309.96" y1="395.5" x2="309.96" y2="394" stroke="#8a8a8a" stroke-width="1"/>
<line x1="309.96" y1="277" x2="309.96" y2="278.5" stroke="#8a8a8a" stroke-width="1"/>
<line x1="316.42" y1="395.5" x2="316.42" y2="394" stroke="#8a8a8a" stroke-width="1"/>
<line x1="316.42" y1="277" x2="316.42" y2="278.5" stroke="#8a8a8a" stroke-width="1"/>
<line x1="322.89" y1="395.5" x2="322.89" y2="394" stroke="#8a8a8a" stroke-width="1"/>
<line x1="322.89" y1="277" x2="322.89" y2="278.5" stroke="#8a8a8a" stroke-width="1"/>
<line x1="329.35" y1="395.5" x2="329.35" y2="394" stroke="#8a8a8a" stroke-width="1"/>
<line x1="329.35" y1="277" x2="329.35" y2="278.5" stroke="#8a8a8a" stroke-width="1"/>
<line x1="335.81" y1="395.5" x2="335.81" y2="392.3" stroke="#8a8a8a" stroke-width="1"/>
<line x1="335.81" y1="277" x2="335.81" y2="280.2" stroke="#8a8a8a" stroke-width="1"/>
<line x1="342.27" y1="395.5" x2="342.27" y2="394" stroke="#8a8a8a" stroke-width="1"/>
<line x1="342.27" y1="277" x2="342.27" y2="278.5" stroke="#8a8a8a" stroke-width="1"/>
<line x1="348.73" y1="395.5" x2="348.73" y2="394" stroke="#8a8a8a" stroke-width="1"/>
<line x1="348.73" y1="277" x2="348.73" y2="278.5" stroke="#8a8a8a" stroke-width="1"/>
<line x1="355.2" y1="395.5" x2="355.2" y2="394" stroke="#8a8a8a" stroke-width="1"/>
<line x1="355.2" y1="277" x2="355.2" y2="278.5" stroke="#8a8a8a" stroke-width="1"/>
<line x1="361.66" y1="395.5" x2="361.66" y2="394" stroke="#8a8a8a" stroke-width="1"/>
<line x1="361.66" y1="277" x2="361.66" y2="278.5" stroke="#8a8a8a" stroke-width="1"/>
<line x1="368.12" y1="395.5" x2="368.12" y2="392.3" stroke="#8a8a8a" stroke-width="1"/>
<line x1="368.12" y1="277" x2="368.12" y2="280.2" stroke="#8a8a8a" stroke-width="1"/>
<line x1="374.58" y1="395.5" x2="374.58" y2="394" stroke="#8a8a8a" stroke-width="1"/>
<line x1="374.58" y1="277" x2="374.58" y2="278.5" stroke="#8a8a8a" stroke-width="1"/>
<line x1="381.04" y1="395.5" x2="381.04" y2="394" stroke="#8a8a8a" stroke-width="1"/>
<line x1="381.04" y1="277" x2="381.04" y2="278.5" stroke="#8a8a8a" stroke-width="1"/>
<line x1="387.51" y1="395.5" x2="387.51" y2="394" stroke="#8a8a8a" stroke-width="1"/>
<line x1="387.51" y1="277" x2="387.51" y2="278.5" stroke="#8a8a8a" stroke-width="1"/>
<line x1="393.97" y1="395.5" x2="393.97" y2="394" stroke="#8a8a8a" stroke-width="1"/>
<line x1="393.97" y1="277" x2="393.97" y2="278.5" stroke="#8a8a8a" stroke-width="1"/>
<line x1="400.43" y1="395.5" x2="400.43" y2="392.3" stroke="#8a8a8a" stroke-width="1"/>
<line x1="400.43" y1="277" x2="400.43" y2="280.2" stroke="#8a8a8a" stroke-width="1"/>
<line x1="406.89" y1="395.5" x2="406.89" y2="394" stroke="#8a8a8a" stroke-width="1"/>
<line x1="406.89" y1="277" x2="406.89" y2="278.5" stroke="#8a8a8a" stroke-width="1"/>
<line x1="413.35" y1="395.5" x2="413.35" y2="394" stroke="#8a8a8a" stroke-width="1"/>
<line x1="413.35" y1="277" x2="413.35" y2="278.5" stroke="#8a8a8a" stroke-width="1"/>
<line x1="419.82" y1="395.5" x2="419.82" y2="394" stroke="#8a8a8a" stroke-width="1"/>
<line x1="419.82" y1="277" x2="419.82" y2="278.5" stroke="#8a8a8a" stroke-width="1"/>
<line x1="426.28" y1="395.5" x2="426.28" y2="394" stroke="#8a8a8a" stroke-width="1"/>
<line x1="426.28" y1="277" x2="426.28" y2="278.5" stroke="#8a8a8a" stroke-width="1"/>
<line x1="432.74" y1="395.5" x2="432.74" y2="392.3" stroke="#8a8a8a" stroke-width="1"/>
<line x1="432.74" y1="277" x2="432.74" y2="280.2" stroke="#8a8a8a" stroke-width="1"/>
<line x1="439.2" y1="395.5" x2="439.2" y2="394" stroke="#8a8a8a" stroke-width="1"/>
<line x1="439.2" y1="277" x2="439.2" y2="278.5" stroke="#8a8a8a" stroke-width="1"/>
<line x1="445.66" y1="395.5" x2="445.66" y2="394" stroke="#8a8a8a" stroke-width="1"/>
<line x1="445.66" y1="277" x2="445.66" y2="278.5" stroke="#8a8a8a" stroke-width="1"/>
<line x1="452.13" y1="395.5" x2="452.13" y2="394" stroke="#8a8a8a" stroke-width="1"/>
<line x1="452.13" y1="277" x2="452.13" y2="278.5" stroke="#8a8a8a" stroke-width="1"/>
<line x1="458.59" y1="395.5" x2="458.59" y2="394" stroke="#8a8a8a" stroke-width="1"/>
<line x1="458.59" y1="277" x2="458.59" y2="278.5" stroke="#8a8a8a" stroke-width="1"/>
<line x1="465.05" y1="395.5" x2="465.05" y2="392.3" stroke="#8a8a8a" stroke-width="1"/>
<line x1="465.05" y1="277" x2="465.05" y2="280.2" stroke="#8a8a8a" stroke-width="1"/>
<line x1="471.51" y1="395.5" x2="471.51" y2="394" stroke="#8a8a8a" stroke-width="1"/>
<line x1="471.51" y1="277" x2="471.51" y2="278.5" stroke="#8a8a8a" stroke-width="1"/>
<line x1="477.97" y1="395.5" x2="477.97" y2="394" stroke="#8a8a8a" stroke-width="1"/>
<line x1="477.97" y1="277" x2="477.97" y2="278.5" stroke="#8a8a8a" stroke-width="1"/>
<line x1="484.44" y1="395.5" x2="484.44" y2="394" stroke="#8a8a8a" stroke-width="1"/>
<line x1="484.44" y1="277" x2="484.44" y2="278.5" stroke="#8a8a8a" stroke-width="1"/>
<line x1="490.9" y1="395.5" x2="490.9" y2="394" stroke="#8a8a8a" stroke-width="1"/>
<line x1="490.9" y1="277" x2="490.9" y2="278.5" stroke="#8a8a8a" stroke-width="1"/>
<line x1="497.36" y1="395.5" x2="497.36" y2="392.3" stroke="#8a8a8a" stroke-width="1"/>
<line x1="497.36" y1="277" x2="497.36" y2="280.2" stroke="#8a8a8a" stroke-width="1"/>
<line x1="503.82" y1="395.5" x2="503.82" y2="394" stroke="#8a8a8a" stroke-width="1"/>
<line x1="503.82" y1="277" x2="503.82" y2="278.5" stroke="#8a8a8a" stroke-width="1"/>
<line x1="510.28" y1="395.5" x2="510.28" y2="394" stroke="#8a8a8a" stroke-width="1"/>
<line x1="510.28" y1="277" x2="510.28" y2="278.5" stroke="#8a8a8a" stroke-width="1"/>
<line x1="516.75" y1="395.5" x2="516.75" y2="394" stroke="#8a8a8a" stroke-width="1"/>
<line x1="516.75" y1="277" x2="516.75" y2="278.5" stroke="#8a8a8a" stroke-width="1"/>
<line x1="523.21" y1="395.5" x2="523.21" y2="394" stroke="#8a8a8a" stroke-width="1"/>
<line x1="523.21" y1="277" x2="523.21" y2="278.5" stroke="#8a8a8a" stroke-width="1"/>
<line x1="529.67" y1="395.5" x2="529.67" y2="392.3" stroke="#8a8a8a" stroke-width="1"/>
<line x1="529.67" y1="277" x2="529.67" y2="280.2" stroke="#8a8a8a" stroke-width="1"/>
<rect x="523.7" y="348.45" width="5.3" height="9.6" fill="#000"/>
<text x="300.33" y="406" font-size="10" font-weight="bold" fill="#000" textLength="5.56" lengthAdjust="spacingAndGlyphs">0</text>
<text x="333.31" y="406" font-size="10.14" font-weight="bold" fill="#000" textLength="5.64" lengthAdjust="spacingAndGlyphs">1</text>
<text x="364.45" y="406" font-size="10" font-weight="bold" fill="#000" textLength="5.56" lengthAdjust="spacingAndGlyphs">2</text>
<text x="397.07" y="406" font-size="10" font-weight="bold" fill="#000" textLength="5.56" lengthAdjust="spacingAndGlyphs">3</text>
<text x="430.03" y="406" font-size="10.14" font-weight="bold" fill="#000" textLength="5.64" lengthAdjust="spacingAndGlyphs">4</text>
<text x="461.96" y="406" font-size="10.14" font-weight="bold" fill="#000" textLength="5.64" lengthAdjust="spacingAndGlyphs">5</text>
<text x="494.53" y="406" font-size="10" font-weight="bold" fill="#000" textLength="5.56" lengthAdjust="spacingAndGlyphs">6</text>
<text x="526.18" y="406" font-size="10.14" font-weight="bold" fill="#000" textLength="5.64" lengthAdjust="spacingAndGlyphs">7</text>
<text x="479.47" y="416.3" font-size="11.48" font-weight="bold" stroke="#000" stroke-width="0.25" fill="#000" textLength="5.93" lengthAdjust="spacingAndGlyphs">p</text>
<text x="485.94" y="421" font-size="8.12" font-weight="bold" stroke="#000" stroke-width="0.25" fill="#000" textLength="3.93" lengthAdjust="spacingAndGlyphs">T</text>
<text x="491.98" y="416.3" font-size="10.29" font-weight="bold" stroke="#000" stroke-width="0.25" fill="#000" textLength="36.71" lengthAdjust="spacingAndGlyphs">(GeV/c)</text>
<g transform="translate(283.2,45.9) rotate(-90)" font-weight="bold"><text x="0" y="0" font-size="15.8" textLength="10.9" lengthAdjust="spacingAndGlyphs">R</text><text x="10.6" y="4.0" font-size="10.3" textLength="14.8" lengthAdjust="spacingAndGlyphs">dA</text></g>
<text x="310.46" y="26.8" font-size="10.43" font-weight="bold" stroke="#000" stroke-width="0.25" fill="#000" textLength="27.99" lengthAdjust="spacingAndGlyphs">d+Au</text>
<text x="341.21" y="26.8" font-size="10.56" font-weight="bold" stroke="#000" stroke-width="0.45" fill="#000" textLength="12.29" lengthAdjust="spacingAndGlyphs">@</text>
<polyline points="355.8,22.1 356.2,21.2 358.2,29.4 359.6,17.8 377.6,17.8" fill="none" stroke="#555" stroke-width="0.9"/>
<text x="360.68" y="26.8" font-size="10.37" font-weight="bold" stroke="#000" stroke-width="0.25" fill="#000" textLength="6.72" lengthAdjust="spacingAndGlyphs">s</text>
<text x="367.28" y="29.9" font-size="6.96" font-weight="bold" stroke="#000" stroke-width="0.2" fill="#000" textLength="11.47" lengthAdjust="spacingAndGlyphs">NN</text>
<text x="378.25" y="26.8" font-size="10.29" font-weight="bold" stroke="#000" stroke-width="0.25" fill="#000" textLength="50.72" lengthAdjust="spacingAndGlyphs">=200 GeV</text>
<ellipse cx="441.4" cy="27.3" rx="2.6" ry="2.3" fill="#2f4fa6"/>
<rect x="439" y="38" width="4.8" height="4.8" fill="#e8201c"/>
<text x="451.88" y="30.4" font-size="9.86" font-weight="bold" stroke="#000" stroke-width="0.25" fill="#000" textLength="66.6" lengthAdjust="spacingAndGlyphs">-2.0 &lt; y &lt; -1.4</text>
<text x="451.66" y="42.8" font-size="10" font-weight="bold" stroke="#000" stroke-width="0.25" fill="#000" textLength="59.87" lengthAdjust="spacingAndGlyphs">1.4 &lt; y &lt; 2.0</text>
<text x="459.31" y="63.2" font-size="10.57" font-weight="bold" stroke="#000" stroke-width="0.25" fill="#000" textLength="58.35" lengthAdjust="spacingAndGlyphs">(a) 60-88%</text>
<text x="459.24" y="201.1" font-size="10.43" font-weight="bold" stroke="#000" stroke-width="0.25" fill="#000" textLength="49.64" lengthAdjust="spacingAndGlyphs">(b) 0-20%</text>
<text x="459.25" y="329.4" font-size="10.43" font-weight="bold" stroke="#000" stroke-width="0.25" fill="#000" textLength="54.59" lengthAdjust="spacingAndGlyphs">(c) 0-100%</text>
<defs><pattern id="hatch" patternUnits="userSpaceOnUse" width="2" height="2"><rect width="2" height="2" fill="#fdf1f1"/><rect width="1" height="1" fill="#f8cfcf"/><rect x="1" y="1" width="1" height="1" fill="#f8cfcf"/></pattern></defs>
<polygon points="311.7,92.5 340,91.7 370,90.8 400,89.9 430,89.3 460,88.9 490,88.6 521.6,88.3 521.6,91.7 490,92.1 460,92.6 430,93.3 400,94.6 370,96.5 340,98 311.7,99.2" fill="url(#hatch)" fill-opacity="1.0"/>
<polygon points="311.7,229.3 340,229.8 370,229.6 400,229.1 430,228.6 460,227.8 490,226.9 521.6,225.8 521.6,228.4 490,229.9 460,231.6 430,233.9 400,236.2 370,239.2 340,242.6 311.7,246.2" fill="url(#hatch)" fill-opacity="1.0"/>
<polygon points="311.7,355.6 340,355.4 370,354.6 400,353.8 430,353 460,352.3 490,351.6 521.6,351.1 521.6,353.3 490,354.1 460,355.2 430,356.6 400,358.5 370,360.4 340,362.6 311.7,365" fill="url(#hatch)" fill-opacity="1.0"/>
<line x1="303.5" y1="91" x2="529.7" y2="91" stroke="#111" stroke-width="1.2" stroke-dasharray="1.5 2"/>
<line x1="303.5" y1="228" x2="529.7" y2="228" stroke="#111" stroke-width="1.2" stroke-dasharray="1.5 2"/>
<line x1="303.5" y1="352.95" x2="529.7" y2="352.95" stroke="#111" stroke-width="1.2" stroke-dasharray="1.5 2"/>
<polygon points="311.7,87.4 330,85.6 350,84.4 370,83.8 390,83.6 410,83.6 430,83.7 450,83.8 470,83.9 490,84 510,84 521.6,84 521.6,98.3 510,97.2 490,95.3 470,93.6 450,92 430,90.6 410,89.4 390,88.8 370,88.5 350,88.6 330,89.2 311.7,89.6" fill="#8a8ed2" fill-opacity="0.85"/>
<polyline points="311.7,88.39 330,87.22 350,86.29 370,85.92 390,85.94 410,86.21 430,86.81 450,87.49 470,88.27 490,89.09 510,89.94 521.6,90.44" fill="none" stroke="#4650b2" stroke-width="1.2" stroke-opacity="0.8"/>
<polygon points="311.7,220.6 330,217 350,214.2 370,213 390,213 410,214 430,215.8 450,216.9 470,218 490,219 510,220 521.6,220.5 521.6,236 510,234.8 490,232.8 470,230.8 450,228.8 430,227.2 410,225 390,224 370,223.8 350,224 330,224.5 311.7,224.8" fill="#8a8ed2" fill-opacity="0.85"/>
<polyline points="311.7,223.12 330,221.5 350,220.08 370,219.48 390,219.6 410,220.6 430,222.64 450,224.04 470,225.68 490,227.28 510,228.88 521.6,229.8" fill="none" stroke="#4650b2" stroke-width="1.2" stroke-opacity="0.8"/>
<polygon points="311.7,347.8 330,346.4 350,345.3 370,344.7 390,344.6 410,344.8 430,345.2 450,345.7 470,346.1 490,346.5 510,346.8 521.6,347 521.6,360.2 510,359.3 490,357.2 470,355 450,353 430,351.4 410,350.3 390,349.6 370,349.4 350,349.8 330,350.6 311.7,351.6" fill="#8a8ed2" fill-opacity="0.85"/>
<polyline points="311.7,349.89 330,348.71 350,347.78 370,347.29 390,347.35 410,347.83 430,348.61 450,349.72 470,351 490,352.38 510,353.68 521.6,354.26" fill="none" stroke="#4650b2" stroke-width="1.2" stroke-opacity="0.8"/>
<polyline points="311.7,94.5 340,93.7 370,92.8 400,91.9 430,91.3 460,90.9 490,90.6 521.6,90.3" fill="none" stroke="#ee3030" stroke-width="1.3" stroke-dasharray="2.8 3"/>
<polyline points="311.7,236.5 340,235.3 370,233.8 400,232.2 430,230.8 460,229.3 490,227.9 521.6,226.6" fill="none" stroke="#ee3030" stroke-width="1.3" stroke-dasharray="2.8 3"/>
<polyline points="311.7,358.9 340,358 370,356.6 400,355.4 430,354.3 460,353.4 490,352.7 521.6,352.2" fill="none" stroke="#ee3030" stroke-width="1.3" stroke-dasharray="2.8 3"/>
<rect x="337.1" y="79" width="5.6" height="23.5" fill="none" stroke="#6680cc" stroke-width="0.9"/>
<line x1="339.9" y1="84.33" x2="339.9" y2="94.67" stroke="#6680cc" stroke-width="0.8"/>
<line x1="338.9" y1="84.33" x2="340.9" y2="84.33" stroke="#6680cc" stroke-width="0.8"/>
<line x1="338.9" y1="94.67" x2="340.9" y2="94.67" stroke="#6680cc" stroke-width="0.8"/>
<ellipse cx="339.9" cy="89.5" rx="2.85" ry="2.5" fill="#2f4fa6"/>
<rect x="345.3" y="59.8" width="5.6" height="32.9" fill="none" stroke="#6680cc" stroke-width="0.9"/>
<line x1="348.1" y1="70.46" x2="348.1" y2="84.94" stroke="#6680cc" stroke-width="0.8"/>
<line x1="347.1" y1="70.46" x2="349.1" y2="70.46" stroke="#6680cc" stroke-width="0.8"/>
<line x1="347.1" y1="84.94" x2="349.1" y2="84.94" stroke="#6680cc" stroke-width="0.8"/>
<ellipse cx="348.1" cy="77.7" rx="2.85" ry="2.5" fill="#2f4fa6"/>
<rect x="353.2" y="70.3" width="5.6" height="28.3" fill="none" stroke="#6680cc" stroke-width="0.9"/>
<line x1="356" y1="78.77" x2="356" y2="91.23" stroke="#6680cc" stroke-width="0.8"/>
<line x1="355" y1="78.77" x2="357" y2="78.77" stroke="#6680cc" stroke-width="0.8"/>
<line x1="355" y1="91.23" x2="357" y2="91.23" stroke="#6680cc" stroke-width="0.8"/>
<ellipse cx="356" cy="85" rx="2.85" ry="2.5" fill="#2f4fa6"/>
<rect x="361.4" y="78" width="5.6" height="26.2" fill="none" stroke="#6680cc" stroke-width="0.9"/>
<line x1="364.2" y1="84.94" x2="364.2" y2="96.46" stroke="#6680cc" stroke-width="0.8"/>
<line x1="363.2" y1="84.94" x2="365.2" y2="84.94" stroke="#6680cc" stroke-width="0.8"/>
<line x1="363.2" y1="96.46" x2="365.2" y2="96.46" stroke="#6680cc" stroke-width="0.8"/>
<ellipse cx="364.2" cy="90.7" rx="2.85" ry="2.5" fill="#2f4fa6"/>
<rect x="369.4" y="80" width="5.6" height="25.8" fill="none" stroke="#6680cc" stroke-width="0.9"/>
<line x1="372.2" y1="87.82" x2="372.2" y2="99.18" stroke="#6680cc" stroke-width="0.8"/>
<line x1="371.2" y1="87.82" x2="373.2" y2="87.82" stroke="#6680cc" stroke-width="0.8"/>
<line x1="371.2" y1="99.18" x2="373.2" y2="99.18" stroke="#6680cc" stroke-width="0.8"/>
<ellipse cx="372.2" cy="93.5" rx="2.85" ry="2.5" fill="#2f4fa6"/>
<rect x="377.5" y="59.9" width="5.6" height="38.5" fill="none" stroke="#6680cc" stroke-width="0.9"/>
<line x1="380.3" y1="68.53" x2="380.3" y2="85.47" stroke="#6680cc" stroke-width="0.8"/>
<line x1="379.3" y1="68.53" x2="381.3" y2="68.53" stroke="#6680cc" stroke-width="0.8"/>
<line x1="379.3" y1="85.47" x2="381.3" y2="85.47" stroke="#6680cc" stroke-width="0.8"/>
<ellipse cx="380.3" cy="77" rx="2.85" ry="2.5" fill="#2f4fa6"/>
<rect x="385.7" y="44.5" width="5.6" height="39.5" fill="none" stroke="#6680cc" stroke-width="0.9"/>
<line x1="388.5" y1="55.61" x2="388.5" y2="72.99" stroke="#6680cc" stroke-width="0.8"/>
<line x1="387.5" y1="55.61" x2="389.5" y2="55.61" stroke="#6680cc" stroke-width="0.8"/>
<line x1="387.5" y1="72.99" x2="389.5" y2="72.99" stroke="#6680cc" stroke-width="0.8"/>
<ellipse cx="388.5" cy="64.3" rx="2.85" ry="2.5" fill="#2f4fa6"/>
<rect x="393.6" y="62.7" width="5.6" height="36.5" fill="none" stroke="#6680cc" stroke-width="0.9"/>
<line x1="396.4" y1="72.27" x2="396.4" y2="88.33" stroke="#6680cc" stroke-width="0.8"/>
<line x1="395.4" y1="72.27" x2="397.4" y2="72.27" stroke="#6680cc" stroke-width="0.8"/>
<line x1="395.4" y1="88.33" x2="397.4" y2="88.33" stroke="#6680cc" stroke-width="0.8"/>
<ellipse cx="396.4" cy="80.3" rx="2.85" ry="2.5" fill="#2f4fa6"/>
<rect x="406" y="75.4" width="5.6" height="30.4" fill="none" stroke="#6680cc" stroke-width="0.9"/>
<line x1="408.8" y1="84.61" x2="408.8" y2="97.99" stroke="#6680cc" stroke-width="0.8"/>
<line x1="407.8" y1="84.61" x2="409.8" y2="84.61" stroke="#6680cc" stroke-width="0.8"/>
<line x1="407.8" y1="97.99" x2="409.8" y2="97.99" stroke="#6680cc" stroke-width="0.8"/>
<ellipse cx="408.8" cy="91.3" rx="2.85" ry="2.5" fill="#2f4fa6"/>
<rect x="422" y="45.7" width="5.6" height="43.7" fill="none" stroke="#6680cc" stroke-width="0.9"/>
<line x1="424.8" y1="57.99" x2="424.8" y2="77.21" stroke="#6680cc" stroke-width="0.8"/>
<line x1="423.8" y1="57.99" x2="425.8" y2="57.99" stroke="#6680cc" stroke-width="0.8"/>
<line x1="423.8" y1="77.21" x2="425.8" y2="77.21" stroke="#6680cc" stroke-width="0.8"/>
<ellipse cx="424.8" cy="67.6" rx="2.85" ry="2.5" fill="#2f4fa6"/>
<rect x="446.3" y="60" width="5.6" height="39.3" fill="none" stroke="#6680cc" stroke-width="0.9"/>
<line x1="449.1" y1="71.75" x2="449.1" y2="89.05" stroke="#6680cc" stroke-width="0.8"/>
<line x1="448.1" y1="71.75" x2="450.1" y2="71.75" stroke="#6680cc" stroke-width="0.8"/>
<line x1="448.1" y1="89.05" x2="450.1" y2="89.05" stroke="#6680cc" stroke-width="0.8"/>
<ellipse cx="449.1" cy="80.4" rx="2.85" ry="2.5" fill="#2f4fa6"/>
<rect x="494.7" y="84.5" width="5.6" height="26.3" fill="none" stroke="#6680cc" stroke-width="0.9"/>
<line x1="497.5" y1="75.7" x2="497.5" y2="108" stroke="#6680cc" stroke-width="0.8"/>
<line x1="496.5" y1="75.7" x2="498.5" y2="75.7" stroke="#6680cc" stroke-width="0.8"/>
<line x1="496.5" y1="108" x2="498.5" y2="108" stroke="#6680cc" stroke-width="0.8"/>
<ellipse cx="497.5" cy="97.7" rx="2.85" ry="2.5" fill="#2f4fa6"/>
<rect x="337.1" y="63.7" width="5.6" height="30.9" fill="none" stroke="#f05555" stroke-width="0.9"/>
<line x1="339.9" y1="71.7" x2="339.9" y2="85.3" stroke="#f05555" stroke-width="0.6"/>
<line x1="338.9" y1="71.7" x2="340.9" y2="71.7" stroke="#f05555" stroke-width="0.6"/>
<line x1="338.9" y1="85.3" x2="340.9" y2="85.3" stroke="#f05555" stroke-width="0.6"/>
<rect x="337.5" y="76.1" width="4.8" height="4.8" fill="#e8201c"/>
<rect x="345.3" y="58.8" width="5.6" height="30.7" fill="none" stroke="#f05555" stroke-width="0.9"/>
<line x1="348.1" y1="67.85" x2="348.1" y2="81.35" stroke="#f05555" stroke-width="0.6"/>
<line x1="347.1" y1="67.85" x2="349.1" y2="67.85" stroke="#f05555" stroke-width="0.6"/>
<line x1="347.1" y1="81.35" x2="349.1" y2="81.35" stroke="#f05555" stroke-width="0.6"/>
<rect x="345.7" y="72.2" width="4.8" height="4.8" fill="#e8201c"/>
<rect x="353.2" y="66.4" width="5.6" height="25.6" fill="none" stroke="#f05555" stroke-width="0.9"/>
<line x1="356" y1="74.87" x2="356" y2="86.13" stroke="#f05555" stroke-width="0.6"/>
<line x1="355" y1="74.87" x2="357" y2="74.87" stroke="#f05555" stroke-width="0.6"/>
<line x1="355" y1="86.13" x2="357" y2="86.13" stroke="#f05555" stroke-width="0.6"/>
<rect x="353.6" y="78.1" width="4.8" height="4.8" fill="#e8201c"/>
<rect x="361.4" y="64.6" width="5.6" height="27.4" fill="none" stroke="#f05555" stroke-width="0.9"/>
<line x1="364.2" y1="73.47" x2="364.2" y2="85.53" stroke="#f05555" stroke-width="0.6"/>
<line x1="363.2" y1="73.47" x2="365.2" y2="73.47" stroke="#f05555" stroke-width="0.6"/>
<line x1="363.2" y1="85.53" x2="365.2" y2="85.53" stroke="#f05555" stroke-width="0.6"/>
<rect x="361.8" y="77.1" width="4.8" height="4.8" fill="#e8201c"/>
<rect x="369.4" y="58.6" width="5.6" height="29.9" fill="none" stroke="#f05555" stroke-width="0.9"/>
<line x1="372.2" y1="68.72" x2="372.2" y2="81.88" stroke="#f05555" stroke-width="0.6"/>
<line x1="371.2" y1="68.72" x2="373.2" y2="68.72" stroke="#f05555" stroke-width="0.6"/>
<line x1="371.2" y1="81.88" x2="373.2" y2="81.88" stroke="#f05555" stroke-width="0.6"/>
<rect x="369.8" y="72.9" width="4.8" height="4.8" fill="#e8201c"/>
<rect x="377.5" y="65" width="5.6" height="30" fill="none" stroke="#f05555" stroke-width="0.9"/>
<line x1="380.3" y1="74.8" x2="380.3" y2="88" stroke="#f05555" stroke-width="0.6"/>
<line x1="379.3" y1="74.8" x2="381.3" y2="74.8" stroke="#f05555" stroke-width="0.6"/>
<line x1="379.3" y1="88" x2="381.3" y2="88" stroke="#f05555" stroke-width="0.6"/>
<rect x="377.9" y="79" width="4.8" height="4.8" fill="#e8201c"/>
<rect x="385.7" y="72.6" width="5.6" height="29.9" fill="none" stroke="#f05555" stroke-width="0.9"/>
<line x1="388.5" y1="80.82" x2="388.5" y2="93.98" stroke="#f05555" stroke-width="0.6"/>
<line x1="387.5" y1="80.82" x2="389.5" y2="80.82" stroke="#f05555" stroke-width="0.6"/>
<line x1="387.5" y1="93.98" x2="389.5" y2="93.98" stroke="#f05555" stroke-width="0.6"/>
<rect x="386.1" y="85" width="4.8" height="4.8" fill="#e8201c"/>
<rect x="393.6" y="69.6" width="5.6" height="32.9" fill="none" stroke="#f05555" stroke-width="0.9"/>
<line x1="396.4" y1="78.86" x2="396.4" y2="93.34" stroke="#f05555" stroke-width="0.6"/>
<line x1="395.4" y1="78.86" x2="397.4" y2="78.86" stroke="#f05555" stroke-width="0.6"/>
<line x1="395.4" y1="93.34" x2="397.4" y2="93.34" stroke="#f05555" stroke-width="0.6"/>
<rect x="394" y="83.7" width="4.8" height="4.8" fill="#e8201c"/>
<rect x="406" y="70.4" width="5.6" height="32.1" fill="none" stroke="#f05555" stroke-width="0.9"/>
<line x1="408.8" y1="79.54" x2="408.8" y2="93.66" stroke="#f05555" stroke-width="0.6"/>
<line x1="407.8" y1="79.54" x2="409.8" y2="79.54" stroke="#f05555" stroke-width="0.6"/>
<line x1="407.8" y1="93.66" x2="409.8" y2="93.66" stroke="#f05555" stroke-width="0.6"/>
<rect x="406.4" y="84.2" width="4.8" height="4.8" fill="#e8201c"/>
<rect x="422" y="65.1" width="5.6" height="35.9" fill="none" stroke="#f05555" stroke-width="0.9"/>
<line x1="424.8" y1="75.4" x2="424.8" y2="91.2" stroke="#f05555" stroke-width="0.6"/>
<line x1="423.8" y1="75.4" x2="425.8" y2="75.4" stroke="#f05555" stroke-width="0.6"/>
<line x1="423.8" y1="91.2" x2="425.8" y2="91.2" stroke="#f05555" stroke-width="0.6"/>
<rect x="422.4" y="80.9" width="4.8" height="4.8" fill="#e8201c"/>
<rect x="446.3" y="58" width="5.6" height="41.3" fill="none" stroke="#f05555" stroke-width="0.9"/>
<line x1="449.1" y1="68.41" x2="449.1" y2="86.59" stroke="#f05555" stroke-width="0.6"/>
<line x1="448.1" y1="68.41" x2="450.1" y2="68.41" stroke="#f05555" stroke-width="0.6"/>
<line x1="448.1" y1="86.59" x2="450.1" y2="86.59" stroke="#f05555" stroke-width="0.6"/>
<rect x="446.7" y="75.1" width="4.8" height="4.8" fill="#e8201c"/>
<rect x="494.7" y="107.9" width="5.6" height="19.1" fill="none" stroke="#f05555" stroke-width="0.9"/>
<line x1="497.5" y1="103.1" x2="497.5" y2="131.3" stroke="#f05555" stroke-width="0.6"/>
<line x1="496.5" y1="103.1" x2="498.5" y2="103.1" stroke="#f05555" stroke-width="0.6"/>
<line x1="496.5" y1="131.3" x2="498.5" y2="131.3" stroke="#f05555" stroke-width="0.6"/>
<rect x="495.1" y="115.1" width="4.8" height="4.8" fill="#e8201c"/>
<rect x="337.2" y="184.7" width="5.6" height="30.6" fill="none" stroke="#6680cc" stroke-width="0.9"/>
<line x1="340" y1="193.77" x2="340" y2="207.23" stroke="#6680cc" stroke-width="0.8"/>
<line x1="339" y1="193.77" x2="341" y2="193.77" stroke="#6680cc" stroke-width="0.8"/>
<line x1="339" y1="207.23" x2="341" y2="207.23" stroke="#6680cc" stroke-width="0.8"/>
<ellipse cx="340" cy="200.5" rx="2.85" ry="2.5" fill="#2f4fa6"/>
<rect x="345.4" y="164" width="5.6" height="37.6" fill="none" stroke="#6680cc" stroke-width="0.9"/>
<line x1="348.2" y1="178.8" x2="348.2" y2="186.6" stroke="#6680cc" stroke-width="0.8"/>
<line x1="347.2" y1="178.8" x2="349.2" y2="178.8" stroke="#6680cc" stroke-width="0.8"/>
<line x1="347.2" y1="186.6" x2="349.2" y2="186.6" stroke="#6680cc" stroke-width="0.8"/>
<ellipse cx="348.2" cy="182.8" rx="2.85" ry="2.5" fill="#2f4fa6"/>
<rect x="353.2" y="165.9" width="5.6" height="37.2" fill="none" stroke="#6680cc" stroke-width="0.9"/>
<line x1="356" y1="180.5" x2="356" y2="188.2" stroke="#6680cc" stroke-width="0.8"/>
<line x1="355" y1="180.5" x2="357" y2="180.5" stroke="#6680cc" stroke-width="0.8"/>
<line x1="355" y1="188.2" x2="357" y2="188.2" stroke="#6680cc" stroke-width="0.8"/>
<ellipse cx="356" cy="184.2" rx="2.85" ry="2.5" fill="#2f4fa6"/>
<rect x="361.4" y="156.5" width="5.6" height="41.9" fill="none" stroke="#6680cc" stroke-width="0.9"/>
<line x1="364.2" y1="172.9" x2="364.2" y2="181.9" stroke="#6680cc" stroke-width="0.8"/>
<line x1="363.2" y1="172.9" x2="365.2" y2="172.9" stroke="#6680cc" stroke-width="0.8"/>
<line x1="363.2" y1="181.9" x2="365.2" y2="181.9" stroke="#6680cc" stroke-width="0.8"/>
<ellipse cx="364.2" cy="177.6" rx="2.85" ry="2.5" fill="#2f4fa6"/>
<rect x="369.6" y="161.2" width="5.6" height="40.4" fill="none" stroke="#6680cc" stroke-width="0.9"/>
<line x1="372.4" y1="176.5" x2="372.4" y2="185.9" stroke="#6680cc" stroke-width="0.8"/>
<line x1="371.4" y1="176.5" x2="373.4" y2="176.5" stroke="#6680cc" stroke-width="0.8"/>
<line x1="371.4" y1="185.9" x2="373.4" y2="185.9" stroke="#6680cc" stroke-width="0.8"/>
<ellipse cx="372.4" cy="181.2" rx="2.85" ry="2.5" fill="#2f4fa6"/>
<rect x="377.7" y="160.7" width="5.6" height="43.5" fill="none" stroke="#6680cc" stroke-width="0.9"/>
<line x1="380.5" y1="175.3" x2="380.5" y2="189" stroke="#6680cc" stroke-width="0.8"/>
<line x1="379.5" y1="175.3" x2="381.5" y2="175.3" stroke="#6680cc" stroke-width="0.8"/>
<line x1="379.5" y1="189" x2="381.5" y2="189" stroke="#6680cc" stroke-width="0.8"/>
<ellipse cx="380.5" cy="182.4" rx="2.85" ry="2.5" fill="#2f4fa6"/>
<rect x="385.8" y="158.8" width="5.6" height="43.6" fill="none" stroke="#6680cc" stroke-width="0.9"/>
<line x1="388.6" y1="170.6" x2="388.6" y2="189.9" stroke="#6680cc" stroke-width="0.8"/>
<line x1="387.6" y1="170.6" x2="389.6" y2="170.6" stroke="#6680cc" stroke-width="0.8"/>
<line x1="387.6" y1="189.9" x2="389.6" y2="189.9" stroke="#6680cc" stroke-width="0.8"/>
<ellipse cx="388.6" cy="180.5" rx="2.85" ry="2.5" fill="#2f4fa6"/>
<rect x="393.8" y="165.4" width="5.6" height="44" fill="none" stroke="#6680cc" stroke-width="0.9"/>
<line x1="396.6" y1="177.2" x2="396.6" y2="197.6" stroke="#6680cc" stroke-width="0.8"/>
<line x1="395.6" y1="177.2" x2="397.6" y2="177.2" stroke="#6680cc" stroke-width="0.8"/>
<line x1="395.6" y1="197.6" x2="397.6" y2="197.6" stroke="#6680cc" stroke-width="0.8"/>
<ellipse cx="396.6" cy="187.5" rx="2.85" ry="2.5" fill="#2f4fa6"/>
<rect x="405.9" y="185.4" width="5.6" height="36" fill="none" stroke="#6680cc" stroke-width="0.9"/>
<line x1="408.7" y1="195.5" x2="408.7" y2="212.6" stroke="#6680cc" stroke-width="0.8"/>
<line x1="407.7" y1="195.5" x2="409.7" y2="195.5" stroke="#6680cc" stroke-width="0.8"/>
<line x1="407.7" y1="212.6" x2="409.7" y2="212.6" stroke="#6680cc" stroke-width="0.8"/>
<ellipse cx="408.7" cy="203.5" rx="2.85" ry="2.5" fill="#2f4fa6"/>
<rect x="422" y="185.9" width="5.6" height="36.9" fill="none" stroke="#6680cc" stroke-width="0.9"/>
<line x1="424.8" y1="190.2" x2="424.8" y2="213.4" stroke="#6680cc" stroke-width="0.8"/>
<line x1="423.8" y1="190.2" x2="425.8" y2="190.2" stroke="#6680cc" stroke-width="0.8"/>
<line x1="423.8" y1="213.4" x2="425.8" y2="213.4" stroke="#6680cc" stroke-width="0.8"/>
<ellipse cx="424.8" cy="204.9" rx="2.85" ry="2.5" fill="#2f4fa6"/>
<rect x="446.4" y="178.7" width="5.6" height="46.7" fill="none" stroke="#6680cc" stroke-width="0.9"/>
<line x1="449.2" y1="189.23" x2="449.2" y2="209.77" stroke="#6680cc" stroke-width="0.8"/>
<line x1="448.2" y1="189.23" x2="450.2" y2="189.23" stroke="#6680cc" stroke-width="0.8"/>
<line x1="448.2" y1="209.77" x2="450.2" y2="209.77" stroke="#6680cc" stroke-width="0.8"/>
<ellipse cx="449.2" cy="199.5" rx="2.85" ry="2.5" fill="#2f4fa6"/>
<rect x="494.7" y="214.9" width="5.6" height="26.1" fill="none" stroke="#6680cc" stroke-width="0.9"/>
<line x1="497.5" y1="210.4" x2="497.5" y2="240" stroke="#6680cc" stroke-width="0.8"/>
<line x1="496.5" y1="210.4" x2="498.5" y2="210.4" stroke="#6680cc" stroke-width="0.8"/>
<line x1="496.5" y1="240" x2="498.5" y2="240" stroke="#6680cc" stroke-width="0.8"/>
<ellipse cx="497.5" cy="228" rx="2.85" ry="2.5" fill="#2f4fa6"/>
<rect x="337.2" y="247.8" width="5.6" height="10.9" fill="none" stroke="#f05555" stroke-width="0.9"/>
<line x1="340" y1="250.6" x2="340" y2="255.4" stroke="#f05555" stroke-width="0.6"/>
<line x1="339" y1="250.6" x2="341" y2="250.6" stroke="#f05555" stroke-width="0.6"/>
<line x1="339" y1="255.4" x2="341" y2="255.4" stroke="#f05555" stroke-width="0.6"/>
<rect x="337.6" y="250.6" width="4.8" height="4.8" fill="#e8201c"/>
<rect x="345.3" y="238.8" width="5.6" height="14.2" fill="none" stroke="#f05555" stroke-width="0.9"/>
<line x1="348.1" y1="242.68" x2="348.1" y2="248.92" stroke="#f05555" stroke-width="0.6"/>
<line x1="347.1" y1="242.68" x2="349.1" y2="242.68" stroke="#f05555" stroke-width="0.6"/>
<line x1="347.1" y1="248.92" x2="349.1" y2="248.92" stroke="#f05555" stroke-width="0.6"/>
<rect x="345.7" y="243.4" width="4.8" height="4.8" fill="#e8201c"/>
<rect x="353.2" y="237.9" width="5.6" height="14.4" fill="none" stroke="#f05555" stroke-width="0.9"/>
<line x1="356" y1="241.23" x2="356" y2="247.57" stroke="#f05555" stroke-width="0.6"/>
<line x1="355" y1="241.23" x2="357" y2="241.23" stroke="#f05555" stroke-width="0.6"/>
<line x1="355" y1="247.57" x2="357" y2="247.57" stroke="#f05555" stroke-width="0.6"/>
<rect x="353.6" y="242" width="4.8" height="4.8" fill="#e8201c"/>
<rect x="361.5" y="228.2" width="5.6" height="17.6" fill="none" stroke="#f05555" stroke-width="0.9"/>
<line x1="364.3" y1="232.63" x2="364.3" y2="240.37" stroke="#f05555" stroke-width="0.6"/>
<line x1="363.3" y1="232.63" x2="365.3" y2="232.63" stroke="#f05555" stroke-width="0.6"/>
<line x1="363.3" y1="240.37" x2="365.3" y2="240.37" stroke="#f05555" stroke-width="0.6"/>
<rect x="361.9" y="234.1" width="4.8" height="4.8" fill="#e8201c"/>
<rect x="369.4" y="226.6" width="5.6" height="18.5" fill="none" stroke="#f05555" stroke-width="0.9"/>
<line x1="372.2" y1="231.53" x2="372.2" y2="239.67" stroke="#f05555" stroke-width="0.6"/>
<line x1="371.2" y1="231.53" x2="373.2" y2="231.53" stroke="#f05555" stroke-width="0.6"/>
<line x1="371.2" y1="239.67" x2="373.2" y2="239.67" stroke="#f05555" stroke-width="0.6"/>
<rect x="369.8" y="233.2" width="4.8" height="4.8" fill="#e8201c"/>
<rect x="377.6" y="226.6" width="5.6" height="20.3" fill="none" stroke="#f05555" stroke-width="0.9"/>
<line x1="380.4" y1="232.33" x2="380.4" y2="241.27" stroke="#f05555" stroke-width="0.6"/>
<line x1="379.4" y1="232.33" x2="381.4" y2="232.33" stroke="#f05555" stroke-width="0.6"/>
<line x1="379.4" y1="241.27" x2="381.4" y2="241.27" stroke="#f05555" stroke-width="0.6"/>
<rect x="378" y="234.4" width="4.8" height="4.8" fill="#e8201c"/>
<rect x="385.7" y="221.4" width="5.6" height="21.5" fill="none" stroke="#f05555" stroke-width="0.9"/>
<line x1="388.5" y1="227.27" x2="388.5" y2="236.73" stroke="#f05555" stroke-width="0.6"/>
<line x1="387.5" y1="227.27" x2="389.5" y2="227.27" stroke="#f05555" stroke-width="0.6"/>
<line x1="387.5" y1="236.73" x2="389.5" y2="236.73" stroke="#f05555" stroke-width="0.6"/>
<rect x="386.1" y="229.6" width="4.8" height="4.8" fill="#e8201c"/>
<rect x="393.7" y="229.3" width="5.6" height="20.8" fill="none" stroke="#f05555" stroke-width="0.9"/>
<line x1="396.5" y1="235.32" x2="396.5" y2="244.48" stroke="#f05555" stroke-width="0.6"/>
<line x1="395.5" y1="235.32" x2="397.5" y2="235.32" stroke="#f05555" stroke-width="0.6"/>
<line x1="395.5" y1="244.48" x2="397.5" y2="244.48" stroke="#f05555" stroke-width="0.6"/>
<rect x="394.1" y="237.5" width="4.8" height="4.8" fill="#e8201c"/>
<rect x="405.9" y="230.7" width="5.6" height="19.1" fill="none" stroke="#f05555" stroke-width="0.9"/>
<line x1="408.7" y1="235.6" x2="408.7" y2="244" stroke="#f05555" stroke-width="0.6"/>
<line x1="407.7" y1="235.6" x2="409.7" y2="235.6" stroke="#f05555" stroke-width="0.6"/>
<line x1="407.7" y1="244" x2="409.7" y2="244" stroke="#f05555" stroke-width="0.6"/>
<rect x="406.3" y="237.4" width="4.8" height="4.8" fill="#e8201c"/>
<rect x="422" y="219.9" width="5.6" height="24.8" fill="none" stroke="#f05555" stroke-width="0.9"/>
<line x1="424.8" y1="226.34" x2="424.8" y2="237.26" stroke="#f05555" stroke-width="0.6"/>
<line x1="423.8" y1="226.34" x2="425.8" y2="226.34" stroke="#f05555" stroke-width="0.6"/>
<line x1="423.8" y1="237.26" x2="425.8" y2="237.26" stroke="#f05555" stroke-width="0.6"/>
<rect x="422.4" y="229.4" width="4.8" height="4.8" fill="#e8201c"/>
<rect x="446.3" y="219.9" width="5.6" height="25.3" fill="none" stroke="#f05555" stroke-width="0.9"/>
<line x1="449.1" y1="226.73" x2="449.1" y2="237.87" stroke="#f05555" stroke-width="0.6"/>
<line x1="448.1" y1="226.73" x2="450.1" y2="226.73" stroke="#f05555" stroke-width="0.6"/>
<line x1="448.1" y1="237.87" x2="450.1" y2="237.87" stroke="#f05555" stroke-width="0.6"/>
<rect x="446.7" y="229.9" width="4.8" height="4.8" fill="#e8201c"/>
<rect x="494.7" y="247.1" width="5.6" height="14.9" fill="none" stroke="#f05555" stroke-width="0.9"/>
<line x1="497.5" y1="244.7" x2="497.5" y2="265" stroke="#f05555" stroke-width="0.6"/>
<line x1="496.5" y1="244.7" x2="498.5" y2="244.7" stroke="#f05555" stroke-width="0.6"/>
<line x1="496.5" y1="265" x2="498.5" y2="265" stroke="#f05555" stroke-width="0.6"/>
<rect x="495.1" y="252.2" width="4.8" height="4.8" fill="#e8201c"/>
<rect x="337.1" y="331.3" width="5.6" height="21.4" fill="none" stroke="#6680cc" stroke-width="0.9"/>
<line x1="339.9" y1="337.79" x2="339.9" y2="347.21" stroke="#6680cc" stroke-width="0.8"/>
<line x1="338.9" y1="337.79" x2="340.9" y2="337.79" stroke="#6680cc" stroke-width="0.8"/>
<line x1="338.9" y1="347.21" x2="340.9" y2="347.21" stroke="#6680cc" stroke-width="0.8"/>
<ellipse cx="339.9" cy="342.5" rx="2.85" ry="2.5" fill="#2f4fa6"/>
<rect x="345.2" y="315.5" width="5.6" height="27" fill="none" stroke="#6680cc" stroke-width="0.9"/>
<line x1="348" y1="323.06" x2="348" y2="334.94" stroke="#6680cc" stroke-width="0.8"/>
<line x1="347" y1="323.06" x2="349" y2="323.06" stroke="#6680cc" stroke-width="0.8"/>
<line x1="347" y1="334.94" x2="349" y2="334.94" stroke="#6680cc" stroke-width="0.8"/>
<ellipse cx="348" cy="329" rx="2.85" ry="2.5" fill="#2f4fa6"/>
<rect x="353.1" y="320" width="5.6" height="26.4" fill="none" stroke="#6680cc" stroke-width="0.9"/>
<line x1="355.9" y1="327.29" x2="355.9" y2="338.91" stroke="#6680cc" stroke-width="0.8"/>
<line x1="354.9" y1="327.29" x2="356.9" y2="327.29" stroke="#6680cc" stroke-width="0.8"/>
<line x1="354.9" y1="338.91" x2="356.9" y2="338.91" stroke="#6680cc" stroke-width="0.8"/>
<ellipse cx="355.9" cy="333.1" rx="2.85" ry="2.5" fill="#2f4fa6"/>
<rect x="361.5" y="305.3" width="5.6" height="32.1" fill="none" stroke="#6680cc" stroke-width="0.9"/>
<line x1="364.3" y1="314.74" x2="364.3" y2="328.86" stroke="#6680cc" stroke-width="0.8"/>
<line x1="363.3" y1="314.74" x2="365.3" y2="314.74" stroke="#6680cc" stroke-width="0.8"/>
<line x1="363.3" y1="328.86" x2="365.3" y2="328.86" stroke="#6680cc" stroke-width="0.8"/>
<ellipse cx="364.3" cy="321.8" rx="2.85" ry="2.5" fill="#2f4fa6"/>
<rect x="369.4" y="306.5" width="5.6" height="31.5" fill="none" stroke="#6680cc" stroke-width="0.9"/>
<line x1="372.2" y1="315.77" x2="372.2" y2="329.63" stroke="#6680cc" stroke-width="0.8"/>
<line x1="371.2" y1="315.77" x2="373.2" y2="315.77" stroke="#6680cc" stroke-width="0.8"/>
<line x1="371.2" y1="329.63" x2="373.2" y2="329.63" stroke="#6680cc" stroke-width="0.8"/>
<ellipse cx="372.2" cy="322.7" rx="2.85" ry="2.5" fill="#2f4fa6"/>
<rect x="377.4" y="304.2" width="5.6" height="34.5" fill="none" stroke="#6680cc" stroke-width="0.9"/>
<line x1="380.2" y1="314.21" x2="380.2" y2="329.39" stroke="#6680cc" stroke-width="0.8"/>
<line x1="379.2" y1="314.21" x2="381.2" y2="314.21" stroke="#6680cc" stroke-width="0.8"/>
<line x1="379.2" y1="329.39" x2="381.2" y2="329.39" stroke="#6680cc" stroke-width="0.8"/>
<ellipse cx="380.2" cy="321.8" rx="2.85" ry="2.5" fill="#2f4fa6"/>
<rect x="385.7" y="296.3" width="5.6" height="36.1" fill="none" stroke="#6680cc" stroke-width="0.9"/>
<line x1="388.5" y1="307.1" x2="388.5" y2="322.2" stroke="#6680cc" stroke-width="0.8"/>
<line x1="387.5" y1="307.1" x2="389.5" y2="307.1" stroke="#6680cc" stroke-width="0.8"/>
<line x1="387.5" y1="322.2" x2="389.5" y2="322.2" stroke="#6680cc" stroke-width="0.8"/>
<ellipse cx="388.5" cy="314.8" rx="2.85" ry="2.5" fill="#2f4fa6"/>
<rect x="393.7" y="308.7" width="5.6" height="35" fill="none" stroke="#6680cc" stroke-width="0.9"/>
<line x1="396.5" y1="317.7" x2="396.5" y2="334.2" stroke="#6680cc" stroke-width="0.8"/>
<line x1="395.5" y1="317.7" x2="397.5" y2="317.7" stroke="#6680cc" stroke-width="0.8"/>
<line x1="395.5" y1="334.2" x2="397.5" y2="334.2" stroke="#6680cc" stroke-width="0.8"/>
<ellipse cx="396.5" cy="326.1" rx="2.85" ry="2.5" fill="#2f4fa6"/>
<rect x="405.9" y="317.7" width="5.6" height="30.5" fill="none" stroke="#6680cc" stroke-width="0.9"/>
<line x1="408.7" y1="326.8" x2="408.7" y2="340.3" stroke="#6680cc" stroke-width="0.8"/>
<line x1="407.7" y1="326.8" x2="409.7" y2="326.8" stroke="#6680cc" stroke-width="0.8"/>
<line x1="407.7" y1="340.3" x2="409.7" y2="340.3" stroke="#6680cc" stroke-width="0.8"/>
<ellipse cx="408.7" cy="333.3" rx="2.85" ry="2.5" fill="#2f4fa6"/>
<rect x="422" y="309.5" width="5.6" height="35.5" fill="none" stroke="#6680cc" stroke-width="0.9"/>
<line x1="424.8" y1="315.2" x2="424.8" y2="339.3" stroke="#6680cc" stroke-width="0.8"/>
<line x1="423.8" y1="315.2" x2="425.8" y2="315.2" stroke="#6680cc" stroke-width="0.8"/>
<line x1="423.8" y1="339.3" x2="425.8" y2="339.3" stroke="#6680cc" stroke-width="0.8"/>
<ellipse cx="424.8" cy="327.6" rx="2.85" ry="2.5" fill="#2f4fa6"/>
<rect x="446.3" y="317" width="5.6" height="35.9" fill="none" stroke="#6680cc" stroke-width="0.9"/>
<line x1="449.1" y1="320.2" x2="449.1" y2="348" stroke="#6680cc" stroke-width="0.8"/>
<line x1="448.1" y1="320.2" x2="450.1" y2="320.2" stroke="#6680cc" stroke-width="0.8"/>
<line x1="448.1" y1="348" x2="450.1" y2="348" stroke="#6680cc" stroke-width="0.8"/>
<ellipse cx="449.1" cy="333.8" rx="2.85" ry="2.5" fill="#2f4fa6"/>
<rect x="494.7" y="344" width="5.6" height="18.6" fill="none" stroke="#6680cc" stroke-width="0.9"/>
<line x1="497.5" y1="341.7" x2="497.5" y2="364" stroke="#6680cc" stroke-width="0.8"/>
<line x1="496.5" y1="341.7" x2="498.5" y2="341.7" stroke="#6680cc" stroke-width="0.8"/>
<line x1="496.5" y1="364" x2="498.5" y2="364" stroke="#6680cc" stroke-width="0.8"/>
<ellipse cx="497.5" cy="355.3" rx="2.85" ry="2.5" fill="#2f4fa6"/>
<rect x="337.1" y="363.8" width="5.6" height="11.3" fill="none" stroke="#f05555" stroke-width="0.9"/>
<line x1="339.9" y1="366.31" x2="339.9" y2="371.29" stroke="#f05555" stroke-width="0.6"/>
<line x1="338.9" y1="366.31" x2="340.9" y2="366.31" stroke="#f05555" stroke-width="0.6"/>
<line x1="338.9" y1="371.29" x2="340.9" y2="371.29" stroke="#f05555" stroke-width="0.6"/>
<rect x="337.5" y="366.4" width="4.8" height="4.8" fill="#e8201c"/>
<rect x="345.2" y="353.7" width="5.6" height="14.6" fill="none" stroke="#f05555" stroke-width="0.9"/>
<line x1="348" y1="357.29" x2="348" y2="363.71" stroke="#f05555" stroke-width="0.6"/>
<line x1="347" y1="357.29" x2="349" y2="357.29" stroke="#f05555" stroke-width="0.6"/>
<line x1="347" y1="363.71" x2="349" y2="363.71" stroke="#f05555" stroke-width="0.6"/>
<rect x="345.6" y="358.1" width="4.8" height="4.8" fill="#e8201c"/>
<rect x="353.1" y="352.6" width="5.6" height="15.3" fill="none" stroke="#f05555" stroke-width="0.9"/>
<line x1="355.9" y1="355.93" x2="355.9" y2="362.67" stroke="#f05555" stroke-width="0.6"/>
<line x1="354.9" y1="355.93" x2="356.9" y2="355.93" stroke="#f05555" stroke-width="0.6"/>
<line x1="354.9" y1="362.67" x2="356.9" y2="362.67" stroke="#f05555" stroke-width="0.6"/>
<rect x="353.5" y="356.9" width="4.8" height="4.8" fill="#e8201c"/>
<rect x="361.5" y="344" width="5.6" height="18.7" fill="none" stroke="#f05555" stroke-width="0.9"/>
<line x1="364.3" y1="349.09" x2="364.3" y2="357.31" stroke="#f05555" stroke-width="0.6"/>
<line x1="363.3" y1="349.09" x2="365.3" y2="349.09" stroke="#f05555" stroke-width="0.6"/>
<line x1="363.3" y1="357.31" x2="365.3" y2="357.31" stroke="#f05555" stroke-width="0.6"/>
<rect x="361.9" y="350.8" width="4.8" height="4.8" fill="#e8201c"/>
<rect x="369.4" y="345.3" width="5.6" height="18.1" fill="none" stroke="#f05555" stroke-width="0.9"/>
<line x1="372.2" y1="350.12" x2="372.2" y2="358.08" stroke="#f05555" stroke-width="0.6"/>
<line x1="371.2" y1="350.12" x2="373.2" y2="350.12" stroke="#f05555" stroke-width="0.6"/>
<line x1="371.2" y1="358.08" x2="373.2" y2="358.08" stroke="#f05555" stroke-width="0.6"/>
<rect x="369.8" y="351.7" width="4.8" height="4.8" fill="#e8201c"/>
<rect x="377.4" y="343.1" width="5.6" height="20.3" fill="none" stroke="#f05555" stroke-width="0.9"/>
<line x1="380.2" y1="348.73" x2="380.2" y2="357.67" stroke="#f05555" stroke-width="0.6"/>
<line x1="379.2" y1="348.73" x2="381.2" y2="348.73" stroke="#f05555" stroke-width="0.6"/>
<line x1="379.2" y1="357.67" x2="381.2" y2="357.67" stroke="#f05555" stroke-width="0.6"/>
<rect x="377.8" y="350.8" width="4.8" height="4.8" fill="#e8201c"/>
<rect x="385.7" y="340.8" width="5.6" height="18.1" fill="none" stroke="#f05555" stroke-width="0.9"/>
<line x1="388.5" y1="346.32" x2="388.5" y2="354.28" stroke="#f05555" stroke-width="0.6"/>
<line x1="387.5" y1="346.32" x2="389.5" y2="346.32" stroke="#f05555" stroke-width="0.6"/>
<line x1="387.5" y1="354.28" x2="389.5" y2="354.28" stroke="#f05555" stroke-width="0.6"/>
<rect x="386.1" y="347.9" width="4.8" height="4.8" fill="#e8201c"/>
<rect x="393.7" y="346.9" width="5.6" height="19.2" fill="none" stroke="#f05555" stroke-width="0.9"/>
<line x1="396.5" y1="353.28" x2="396.5" y2="361.72" stroke="#f05555" stroke-width="0.6"/>
<line x1="395.5" y1="353.28" x2="397.5" y2="353.28" stroke="#f05555" stroke-width="0.6"/>
<line x1="395.5" y1="361.72" x2="397.5" y2="361.72" stroke="#f05555" stroke-width="0.6"/>
<rect x="394.1" y="355.1" width="4.8" height="4.8" fill="#e8201c"/>
<rect x="405.9" y="353.6" width="5.6" height="16.1" fill="none" stroke="#f05555" stroke-width="0.9"/>
<line x1="408.7" y1="357.06" x2="408.7" y2="364.14" stroke="#f05555" stroke-width="0.6"/>
<line x1="407.7" y1="357.06" x2="409.7" y2="357.06" stroke="#f05555" stroke-width="0.6"/>
<line x1="407.7" y1="364.14" x2="409.7" y2="364.14" stroke="#f05555" stroke-width="0.6"/>
<rect x="406.3" y="358.2" width="4.8" height="4.8" fill="#e8201c"/>
<rect x="422" y="340.4" width="5.6" height="23.8" fill="none" stroke="#f05555" stroke-width="0.9"/>
<line x1="424.8" y1="345.86" x2="424.8" y2="356.34" stroke="#f05555" stroke-width="0.6"/>
<line x1="423.8" y1="345.86" x2="425.8" y2="345.86" stroke="#f05555" stroke-width="0.6"/>
<line x1="423.8" y1="356.34" x2="425.8" y2="356.34" stroke="#f05555" stroke-width="0.6"/>
<rect x="422.4" y="348.7" width="4.8" height="4.8" fill="#e8201c"/>
<rect x="446.3" y="347.9" width="5.6" height="21.3" fill="none" stroke="#f05555" stroke-width="0.9"/>
<line x1="449.1" y1="353.31" x2="449.1" y2="362.69" stroke="#f05555" stroke-width="0.6"/>
<line x1="448.1" y1="353.31" x2="450.1" y2="353.31" stroke="#f05555" stroke-width="0.6"/>
<line x1="448.1" y1="362.69" x2="450.1" y2="362.69" stroke="#f05555" stroke-width="0.6"/>
<rect x="446.7" y="355.6" width="4.8" height="4.8" fill="#e8201c"/>
<rect x="494.7" y="364" width="5.6" height="14.1" fill="none" stroke="#f05555" stroke-width="0.9"/>
<line x1="497.5" y1="363.3" x2="497.5" y2="381.2" stroke="#f05555" stroke-width="0.6"/>
<line x1="496.5" y1="363.3" x2="498.5" y2="363.3" stroke="#f05555" stroke-width="0.6"/>
<line x1="496.5" y1="381.2" x2="498.5" y2="381.2" stroke="#f05555" stroke-width="0.6"/>
<rect x="495.1" y="369.8" width="4.8" height="4.8" fill="#e8201c"/>
<polyline points="346.2,366.3 352,362.9 358,360 364,357.8 370,356.4 380,355.4 400,354.9 430,354.8 460,354.8 490,354.8 515,354.8" fill="none" stroke="#000" stroke-width="2" stroke-dasharray="2 1.5"/>
<rect x="402.7" y="145.8" width="11.1" height="8.9" fill="#8a8ed2" fill-opacity="0.85"/>
<line x1="402.7" y1="149.9" x2="413.8" y2="149.9" stroke="#4650b2" stroke-width="1.8"/>
<rect x="402.7" y="158" width="11.1" height="9.4" fill="url(#hatch)"/>
<line x1="402.7" y1="162.3" x2="413.8" y2="162.3" stroke="#ee3030" stroke-width="1.3" stroke-dasharray="3.3 1.9"/>
<text x="415.97" y="152.9" font-size="7.54" font-weight="bold" stroke="#000" stroke-width="0.25" fill="#000" textLength="92.89" lengthAdjust="spacingAndGlyphs">PYTHIA + EPS09s LO, D</text>
<line x1="509.6" y1="150.5" x2="514.6" y2="150.5" stroke="#333" stroke-width="0.7"/>
<path d="M513.2,149.2 L515.4,150.5 L513.2,151.8" fill="none" stroke="#333" stroke-width="0.7"/>
<text x="515.6" y="152.9" font-size="7.2" fill="#333">&#956;</text>
<text x="415.97" y="164.9" font-size="6.81" font-weight="bold" stroke="#000" stroke-width="0.25" fill="#000" textLength="92.89" lengthAdjust="spacingAndGlyphs">PYTHIA + EPS09s LO, D</text>
<line x1="509.6" y1="162.75" x2="514.6" y2="162.75" stroke="#333" stroke-width="0.7"/>
<path d="M513.2,161.45 L515.4,162.75 L513.2,164.05" fill="none" stroke="#333" stroke-width="0.7"/>
<text x="515.6" y="164.9" font-size="7.2" fill="#333">&#956;</text>
<line x1="313.8" y1="388.4" x2="330" y2="388.4" stroke="#000" stroke-width="1.9" stroke-dasharray="2 1.6"/>
<text x="334.44" y="389.8" font-size="7.83" font-weight="bold" stroke="#000" stroke-width="0.25" fill="#000" textLength="72.37" lengthAdjust="spacingAndGlyphs">I. Vitev (shadowing, k</text>
<text x="410.45" y="393.4" font-size="5.65" font-weight="bold" stroke="#000" stroke-width="0.25" fill="#000" textLength="3.11" lengthAdjust="spacingAndGlyphs">T</text>
<text x="415.21" y="389.7" font-size="7" font-weight="bold" stroke="#000" stroke-width="0.25" fill="#000" textLength="89.76" lengthAdjust="spacingAndGlyphs">broadening, CNM E-loss)</text>
</svg></body></html>
